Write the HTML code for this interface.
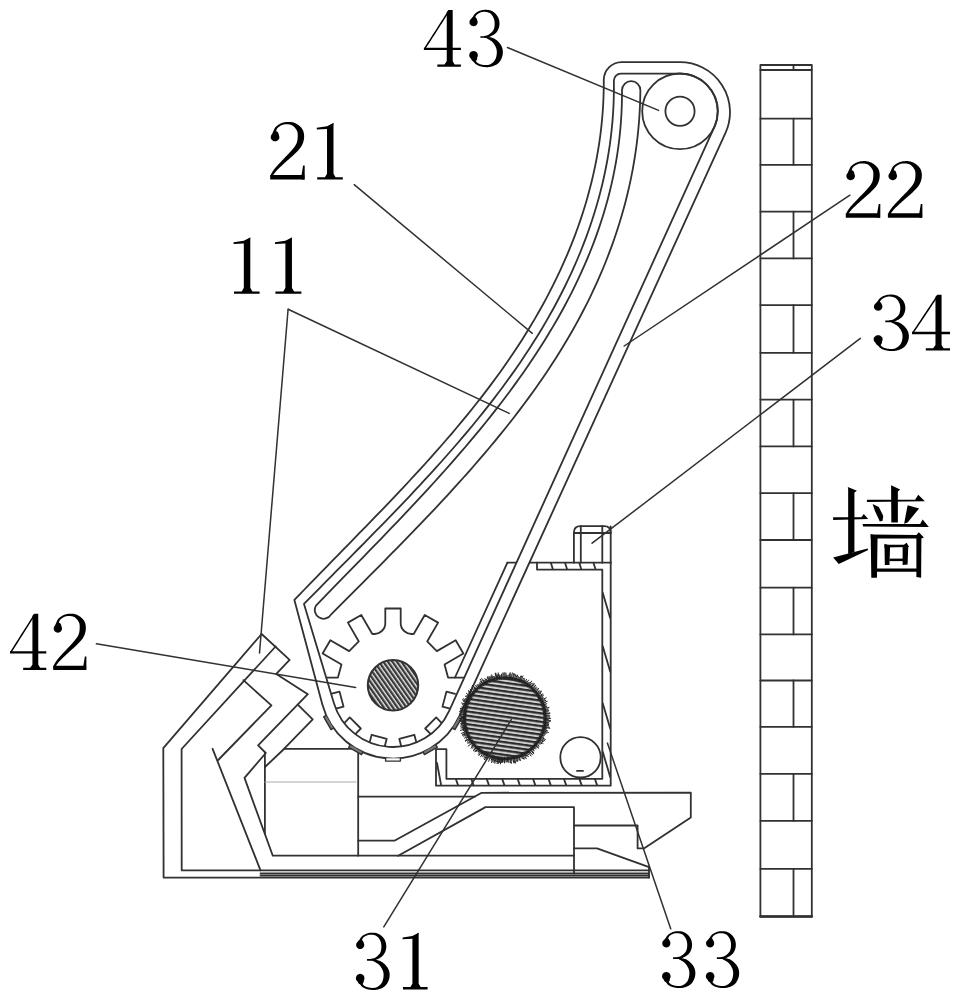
<!DOCTYPE html><html><head><meta charset="utf-8"><style>html,body{margin:0;padding:0;background:#fff;}body{width:959px;height:1000px;overflow:hidden;font-family:"Liberation Serif",serif;}svg{display:block;}</style></head><body><svg width="959" height="1000" viewBox="0 0 959 1000"><defs><pattern id="hs" patternUnits="userSpaceOnUse" width="3.7" height="3.7" patternTransform="rotate(-35)"><rect width="3.7" height="3.7" fill="#e8e8e8"/><rect width="2.3" height="3.7" fill="#383838"/></pattern><pattern id="hr" patternUnits="userSpaceOnUse" width="4.2" height="4.2" patternTransform="rotate(98)"><rect width="4.2" height="4.2" fill="#d0d0d0"/><rect width="2.2" height="4.2" fill="#2a2a2a"/></pattern><filter id="bl" x="-1%" y="-1%" width="102%" height="102%"><feGaussianBlur stdDeviation="0.42"/></filter></defs><rect width="959" height="1000" fill="#fff"/><g filter="url(#bl)"><g fill="none" stroke="#303030" stroke-width="1.8" stroke-linejoin="round" stroke-linecap="round"><rect x="760.4" y="65" width="51.39999999999998" height="851.5" fill="none"/>
<line x1="760.4" y1="70" x2="811.8" y2="70" />
<line x1="793.5" y1="65" x2="793.5" y2="70" />
<line x1="760.4" y1="118.7" x2="811.8" y2="118.7" />
<line x1="760.4" y1="164.8" x2="811.8" y2="164.8" />
<line x1="760.4" y1="211.6" x2="811.8" y2="211.6" />
<line x1="760.4" y1="258.4" x2="811.8" y2="258.4" />
<line x1="760.4" y1="305.2" x2="811.8" y2="305.2" />
<line x1="760.4" y1="352.8" x2="811.8" y2="352.8" />
<line x1="760.4" y1="399.6" x2="811.8" y2="399.6" />
<line x1="760.4" y1="446.4" x2="811.8" y2="446.4" />
<line x1="760.4" y1="493.2" x2="811.8" y2="493.2" />
<line x1="760.4" y1="540" x2="811.8" y2="540" />
<line x1="760.4" y1="587.6" x2="811.8" y2="587.6" />
<line x1="760.4" y1="634.4" x2="811.8" y2="634.4" />
<line x1="760.4" y1="680.5" x2="811.8" y2="680.5" />
<line x1="760.4" y1="726.8" x2="811.8" y2="726.8" />
<line x1="760.4" y1="773.9" x2="811.8" y2="773.9" />
<line x1="760.4" y1="820.8" x2="811.8" y2="820.8" />
<line x1="760.4" y1="868.9" x2="811.8" y2="868.9" />
<line x1="793.5" y1="118.7" x2="793.5" y2="164.8" />
<line x1="793.5" y1="211.6" x2="793.5" y2="258.4" />
<line x1="793.5" y1="305.2" x2="793.5" y2="352.8" />
<line x1="793.5" y1="399.6" x2="793.5" y2="446.4" />
<line x1="793.5" y1="493.2" x2="793.5" y2="540" />
<line x1="793.5" y1="587.6" x2="793.5" y2="634.4" />
<line x1="793.5" y1="680.5" x2="793.5" y2="726.8" />
<line x1="793.5" y1="773.9" x2="793.5" y2="820.8" />
<line x1="793.5" y1="868.9" x2="793.5" y2="916.5" />
<line x1="760.4" y1="916.5" x2="811.8" y2="916.5" stroke-width="2.6"/>
<path d="M649 877.6 L163.6 877.6 L163.3 748.2 L261.6 634 L289.6 659.9 L276.3 673.9 L307.8 694.2 L258.1 745.3 L265.8 753 L244.5 777.9 L272.8 855.7 L574 855.7" fill="none"/>
<path d="M649 870.3 L181.7 870.3 L181.6 749 L275.6 646.5" fill="none"/>
<path d="M243.4 680.2 L271.4 705.4 L218.2 760" fill="none"/>
<line x1="212.6" y1="748.8" x2="260.5" y2="870.3" />
<line x1="260.5" y1="873.5" x2="649" y2="873.5" />
<line x1="260.5" y1="875.6" x2="649" y2="875.6" />
<line x1="649" y1="866.5" x2="649" y2="877.6" />
<path d="M297.8 704.7 L312.7 719.4 L284 748.9 L358.2 748.9" fill="none"/>
<line x1="264.9" y1="753" x2="264.9" y2="833.8" />
<line x1="284" y1="749" x2="265" y2="767" />
<line x1="358.2" y1="748.9" x2="358.2" y2="855.7" />
<line x1="265" y1="782" x2="356" y2="782" stroke="#aaa" stroke-width="1.2"/>
<path d="M358.2 840.7 L394.4 840.7 L481.7 792.8 L690.8 792.6 L690.8 817.6 L643.9 848.4 L637.6 848.4 L637.6 825.5 L574 825.5" fill="none"/>
<line x1="358.2" y1="796.6" x2="475" y2="796.6" />
<path d="M398.2 855.7 L485.5 807.1 L574 807.1 L574 873.5" fill="none"/>
<path d="M574 848.4 L597 848.4 L649.1 867.2" fill="none"/>
<line x1="507.4" y1="562.7" x2="611" y2="562.7" />
<line x1="507.4" y1="562.7" x2="455" y2="677.5" />
<path d="M537 562.7 L537 569.6 L602.3 569.6 L602.3 778.8 L446.4 778.8 L446.4 749.2 L436 749.2 L436 785.7 L610.7 785.7 L610.7 526.5" fill="none"/>
<line x1="437" y1="763" x2="441" y2="784.5" />
<line x1="551" y1="563.3" x2="552.8" y2="569" />
<line x1="565.2" y1="563.3" x2="567" y2="569" />
<line x1="579.4" y1="563.3" x2="581.2" y2="569" />
<line x1="593.6" y1="563.3" x2="595.4" y2="569" />
<line x1="602.8" y1="593" x2="610.2" y2="618" />
<line x1="602.8" y1="646.5" x2="610.2" y2="671.5" />
<line x1="602.8" y1="703.5" x2="610.2" y2="728.5" />
<line x1="602.8" y1="752" x2="610.2" y2="777" />
<line x1="456" y1="779.4" x2="458" y2="785.1" />
<line x1="471.45" y1="779.4" x2="473.45" y2="785.1" />
<line x1="486.9" y1="779.4" x2="488.9" y2="785.1" />
<line x1="502.35" y1="779.4" x2="504.35" y2="785.1" />
<line x1="517.8" y1="779.4" x2="519.8" y2="785.1" />
<line x1="533.25" y1="779.4" x2="535.25" y2="785.1" />
<line x1="548.7" y1="779.4" x2="550.7" y2="785.1" />
<line x1="564.15" y1="779.4" x2="566.15" y2="785.1" />
<line x1="579.6" y1="779.4" x2="581.6" y2="785.1" />
<line x1="595.05" y1="779.4" x2="597.05" y2="785.1" />
<path d="M573.9 562.7 L573.9 532.6 Q573.9 526.1 580.4 526.1 L604.2 526.1 Q610.7 526.1 610.7 532.6" fill="none"/>
<line x1="580.8" y1="526.1" x2="580.8" y2="562.7" />
<line x1="602.3" y1="526.1" x2="602.3" y2="562.7" />
<line x1="573.9" y1="533" x2="610.7" y2="533" />
<circle cx="580.5" cy="757.3" r="20.2" fill="none"/>
<line x1="577" y1="770.9" x2="583" y2="770.9" stroke-width="1.8"/>
<path d="M613.87 80.47 A7 7 0 0 1 620.9 73.7 L680 73.7 A37.8 37.8 0 0 1 714.42 126.93 L449.18 710.82 A61.7 61.7 0 0 1 333.93 703.14 L303.99 603.98 L309.44 598.41 L314.92 592.84 L320.41 587.26 L325.93 581.68 L331.46 576.09 L337 570.49 L342.56 564.88 L348.12 559.27 L353.7 553.64 L359.27 548 L364.85 542.34 L370.42 536.67 L376 530.99 L381.56 525.29 L387.12 519.57 L392.67 513.83 L398.21 508.08 L403.72 502.3 L409.23 496.51 L414.71 490.69 L420.16 484.85 L425.6 478.98 L431 473.09 L436.37 467.18 L441.72 461.23 L447.02 455.26 L452.29 449.26 L457.52 443.23 L462.71 437.17 L467.85 431.08 L472.94 424.95 L477.98 418.79 L482.98 412.6 L487.91 406.36 L492.79 400.1 L497.61 393.79 L502.37 387.45 L507.06 381.06 L511.69 374.64 L516.24 368.17 L520.73 361.66 L525.14 355.11 L529.47 348.51 L533.73 341.86 L537.9 335.17 L541.99 328.43 L545.99 321.65 L549.9 314.82 L553.72 307.94 L557.45 301.01 L561.08 294.04 L564.61 287.02 L568.04 279.96 L571.37 272.85 L574.6 265.69 L577.71 258.49 L580.71 251.24 L583.6 243.94 L586.38 236.6 L589.03 229.22 L591.57 221.79 L593.98 214.31 L596.27 206.79 L598.43 199.23 L600.46 191.62 L602.36 183.97 L604.12 176.27 L605.75 168.52 L607.23 160.74 L608.57 152.91 L609.77 145.03 L610.82 137.11 L611.73 129.15 L612.48 121.14 L613.07 113.09 L613.51 105 L613.79 96.87 L613.91 88.69 L613.87 80.47 Z" fill="#fff" stroke="none"/>
<path d="M622 90.26 L621.96 98.38 L621.76 106.45 L621.4 114.47 L620.88 122.44 L620.21 130.36 L619.4 138.22 L618.43 146.04 L617.32 153.81 L616.06 161.53 L614.66 169.2 L613.12 176.83 L611.45 184.4 L609.64 191.93 L607.7 199.41 L605.64 206.85 L603.44 214.24 L601.12 221.58 L598.68 228.88 L596.13 236.13 L593.45 243.33 L590.66 250.49 L587.76 257.61 L584.74 264.68 L581.62 271.71 L578.4 278.7 L575.07 285.64 L571.65 292.54 L568.12 299.4 L564.5 306.21 L560.79 312.99 L556.99 319.72 L553.1 326.41 L549.12 333.06 L545.06 339.67 L540.93 346.25 L536.71 352.78 L532.42 359.27 L528.05 365.72 L523.62 372.14 L519.11 378.52 L514.54 384.87 L509.91 391.18 L505.21 397.45 L500.46 403.69 L495.65 409.9 L490.78 416.07 L485.87 422.22 L480.9 428.33 L475.89 434.4 L470.84 440.45 L465.74 446.47 L460.61 452.46 L455.44 458.43 L450.23 464.36 L444.99 470.27 L439.72 476.15 L434.43 482 L429.11 487.83 L423.77 493.64 L418.4 499.42 L413.03 505.18 L407.63 510.91 L402.23 516.63 L396.81 522.32 L391.38 527.99 L385.95 533.64 L380.52 539.27 L375.09 544.89 L369.66 550.48 L364.23 556.06 L358.81 561.62 L353.4 567.16 L348.01 572.69 L342.62 578.21 L337.26 583.71 L331.91 589.19 L326.58 594.67 L321.28 600.13 L316 605.58 A8.78 8.78 0 0 0 331.2 614.38 L336.64 608.9 L342.11 603.4 L347.6 597.89 L353.1 592.37 L358.62 586.83 L364.16 581.27 L369.71 575.7 L375.27 570.11 L380.83 564.51 L386.4 558.88 L391.97 553.24 L397.53 547.57 L403.1 541.89 L408.66 536.18 L414.2 530.45 L419.74 524.7 L425.27 518.92 L430.77 513.12 L436.26 507.3 L441.73 501.45 L447.18 495.57 L452.59 489.66 L457.98 483.73 L463.34 477.77 L468.66 471.78 L473.95 465.76 L479.2 459.71 L484.4 453.63 L489.57 447.52 L494.68 441.37 L499.75 435.19 L504.76 428.98 L509.73 422.73 L514.63 416.45 L519.48 410.13 L524.26 403.78 L528.98 397.38 L533.63 390.95 L538.21 384.48 L542.72 377.97 L547.16 371.42 L551.52 364.83 L555.8 358.19 L560 351.52 L564.11 344.8 L568.14 338.04 L572.08 331.23 L575.93 324.38 L579.68 317.48 L583.34 310.54 L586.9 303.56 L590.37 296.53 L593.73 289.46 L596.99 282.34 L600.15 275.18 L603.21 267.98 L606.15 260.73 L608.99 253.44 L611.72 246.1 L614.33 238.72 L616.84 231.3 L619.22 223.83 L621.49 216.32 L623.64 208.77 L625.67 201.17 L627.57 193.53 L629.35 185.84 L631.01 178.12 L632.54 170.34 L633.93 162.53 L635.2 154.67 L636.33 146.77 L637.33 138.83 L638.19 130.84 L638.91 122.81 L639.49 114.74 L639.93 106.62 L640.23 98.47 L640.38 90.27 A9.19 9.19 0 0 0 622 90.26 Z" fill="none"/>
<line x1="507.4" y1="562.7" x2="455" y2="677.5" />
<line x1="507.4" y1="562.7" x2="520" y2="562.7" />
<path d="M316.18 677.6 L337.94 677.6 L341.46 664.44 L322.63 653.56 L330.33 640.22 L349.16 651.1 L358.8 641.46 L347.92 622.63 L361.26 614.93 L372.14 633.76 A11 11 0 0 0 385.3 622.27 L385.3 608.48 L400.7 608.48 L400.7 622.27 A11 11 0 0 0 413.86 633.76 L413.86 633.76 L424.74 614.93 L438.08 622.63 L427.2 641.46 L436.84 651.1 L455.67 640.22 L463.37 653.56 L444.54 664.44 L448.06 677.6 L469.82 677.6" fill="none"/>
<path d="M455.1 693.86 L446.5 691.56 L442.47 706.63 L451.06 708.93" fill="none"/>
<path d="M442.5 723.77 L436.2 717.47 L425.17 728.5 L431.47 734.8" fill="none"/>
<path d="M416.63 743.36 L414.33 734.77 L399.26 738.8 L401.56 747.4" fill="none"/>
<path d="M384.44 747.4 L386.74 738.8 L371.67 734.77 L369.37 743.36" fill="none"/>
<path d="M354.53 734.8 L360.83 728.5 L349.8 717.47 L343.5 723.77" fill="none"/>
<path d="M334.94 708.93 L343.53 706.63 L339.5 691.56 L330.9 693.86" fill="none"/>
<circle cx="393.0" cy="685.3" r="25.2" fill="url(#hs)" stroke-width="2"/>
<path d="M603.77 79.97 A18 18 0 0 1 621.5 62.2 L680 62.2 A50 50 0 0 1 725.49 132.96 L459.6 715.69 A73.2 73.2 0 0 1 322.29 704.23 L294.39 599.98 L299.77 594.36 L305.17 588.75 L310.6 583.13 L316.04 577.52 L321.51 571.91 L326.99 566.29 L332.48 560.67 L337.98 555.05 L343.49 549.42 L349 543.79 L354.52 538.14 L360.03 532.49 L365.55 526.83 L371.06 521.15 L376.56 515.46 L382.05 509.76 L387.53 504.04 L393 498.31 L398.45 492.56 L403.88 486.78 L409.29 480.99 L414.68 475.18 L420.04 469.34 L425.37 463.49 L430.67 457.6 L435.94 451.69 L441.17 445.75 L446.36 439.78 L451.51 433.79 L456.62 427.76 L461.68 421.7 L466.7 415.61 L471.66 409.48 L476.58 403.31 L481.43 397.11 L486.23 390.87 L490.97 384.59 L495.65 378.27 L500.26 371.91 L504.8 365.5 L509.28 359.05 L513.68 352.55 L518.01 346.01 L522.26 339.42 L526.43 332.78 L530.52 326.09 L534.52 319.35 L538.44 312.57 L542.27 305.73 L546.01 298.85 L549.65 291.92 L553.2 284.95 L556.65 277.92 L560 270.85 L563.24 263.74 L566.38 256.58 L569.41 249.37 L572.33 242.12 L575.14 234.82 L577.83 227.48 L580.4 220.09 L582.85 212.66 L585.18 205.19 L587.39 197.67 L589.46 190.11 L591.41 182.51 L593.22 174.87 L594.9 167.18 L596.44 159.45 L597.84 151.69 L599.1 143.88 L600.22 136.03 L601.19 128.14 L602.01 120.21 L602.67 112.24 L603.19 104.23 L603.54 96.18 L603.74 88.09 L603.77 79.97 Z M613.87 80.47 A7 7 0 0 1 620.9 73.7 L680 73.7 A37.8 37.8 0 0 1 714.42 126.93 L449.18 710.82 A61.7 61.7 0 0 1 333.93 703.14 L303.99 603.98 L309.44 598.41 L314.92 592.84 L320.41 587.26 L325.93 581.68 L331.46 576.09 L337 570.49 L342.56 564.88 L348.12 559.27 L353.7 553.64 L359.27 548 L364.85 542.34 L370.42 536.67 L376 530.99 L381.56 525.29 L387.12 519.57 L392.67 513.83 L398.21 508.08 L403.72 502.3 L409.23 496.51 L414.71 490.69 L420.16 484.85 L425.6 478.98 L431 473.09 L436.37 467.18 L441.72 461.23 L447.02 455.26 L452.29 449.26 L457.52 443.23 L462.71 437.17 L467.85 431.08 L472.94 424.95 L477.98 418.79 L482.98 412.6 L487.91 406.36 L492.79 400.1 L497.61 393.79 L502.37 387.45 L507.06 381.06 L511.69 374.64 L516.24 368.17 L520.73 361.66 L525.14 355.11 L529.47 348.51 L533.73 341.86 L537.9 335.17 L541.99 328.43 L545.99 321.65 L549.9 314.82 L553.72 307.94 L557.45 301.01 L561.08 294.04 L564.61 287.02 L568.04 279.96 L571.37 272.85 L574.6 265.69 L577.71 258.49 L580.71 251.24 L583.6 243.94 L586.38 236.6 L589.03 229.22 L591.57 221.79 L593.98 214.31 L596.27 206.79 L598.43 199.23 L600.46 191.62 L602.36 183.97 L604.12 176.27 L605.75 168.52 L607.23 160.74 L608.57 152.91 L609.77 145.03 L610.82 137.11 L611.73 129.15 L612.48 121.14 L613.07 113.09 L613.51 105 L613.79 96.87 L613.91 88.69 L613.87 80.47 Z" fill="#fff" fill-rule="evenodd"/>
<circle cx="680" cy="111.3" r="37.8" fill="none"/>
<circle cx="680" cy="111.3" r="14.6" fill="none"/>
<path d="M459.92 715.39 L462.34 716.79 L454.94 729.61 L452.52 728.21" fill="#777" stroke-width="1.4"/>
<path d="M435.91 744.82 L437.31 747.24 L424.49 754.64 L423.09 752.22" fill="#777" stroke-width="1.4"/>
<path d="M400.4 758.3 L400.4 761.1 L385.6 761.1 L385.6 758.3" fill="#fff" stroke-width="1.4"/>
<path d="M362.91 752.22 L361.51 754.64 L348.69 747.24 L350.09 744.82" fill="#777" stroke-width="1.4"/>
<path d="M333.48 728.21 L331.06 729.61 L323.66 716.79 L326.08 715.39" fill="#777" stroke-width="1.4"/>
<circle cx="504.8" cy="718.3" r="40" fill="url(#hr)" stroke="none"/>
<path d="M543.3 718.36 L551.03 718.37 M543.29 719.36 L548.59 719.5 M543.26 720.07 L550.9 720.42 M543.21 720.86 L550.65 721.36 M543.11 722.15 L549.26 722.77 M543.03 722.85 L548.49 723.5 M542.91 723.75 L548.95 724.61 M542.75 724.78 L549.15 725.88 M542.54 725.92 L549.75 727.38 M542.38 726.66 L550.25 728.41 M542.21 727.39 L547.15 728.58 M541.93 728.46 L546.43 729.69 M541.75 729.1 L547.85 730.89 M541.42 730.18 L548.84 732.59 M541.1 731.13 L547.09 733.25 M540.8 731.95 L545.84 733.86 M540.54 732.61 L545.36 734.54 M540.06 733.76 L544.84 735.85 M539.74 734.47 L543.84 736.36 M539.24 735.5 L543.77 737.76 M538.94 736.1 L545.74 739.64 M538.45 737.01 L545.04 740.68 M537.95 737.87 L544.13 741.52 M537.6 738.45 L543.1 741.83 M537 739.4 L543.39 743.59 M536.52 740.12 L542 743.89 M536.07 740.76 L540.85 744.2 M535.44 741.61 L539.45 744.66 M534.73 742.52 L539.29 746.21 M534.08 743.3 L539.12 747.6 M533.59 743.87 L538.67 748.38 M532.94 744.58 L536.62 748.02 M532.37 745.17 L536.21 748.92 M531.72 745.82 L535.12 749.28 M530.86 746.64 L534.43 750.52 M530.27 747.17 L533.96 751.36 M529.49 747.84 L533.91 753.12 M529.04 748.21 L533.79 754.07 M528.01 749.02 L532.69 755.2 M527.4 749.47 L530.35 753.53 M526.79 749.9 L531.26 756.34 M525.88 750.52 L528.7 754.83 M524.96 751.1 L528.53 756.9 M524.29 751.5 L527.25 756.55 M523.55 751.93 L526.16 756.61 M522.88 752.29 L526.48 759.05 M521.88 752.81 L524.75 758.61 M521.1 753.18 L524.15 759.71 M520.38 753.51 L522.74 758.85 M519.52 753.88 L521.41 758.44 M518.25 754.37 L520.65 760.81 M517.61 754.61 L519.73 760.63 M516.53 754.97 L518.28 760.43 M515.77 755.2 L517.75 761.88 M514.98 755.43 L516.66 761.57 M513.89 755.71 L515.73 763.26 M513.27 755.86 L514.99 763.53 M512.42 756.04 L513.85 763.11 M511.14 756.27 L511.96 761.2 M510.4 756.39 L511.48 763.75 M509.66 756.49 L510.52 763.2 M508.38 756.63 L508.97 762.95 M507.48 756.71 L507.86 762.01 M506.8 756.75 L507.1 762.55 M505.88 756.78 L506.04 762.53 M504.59 756.8 L504.56 763.36 M503.94 756.79 L503.82 762.27 M502.73 756.74 L502.4 762.84 M501.79 756.68 L501.29 763.02 M501.07 756.62 L500.33 764.31 M500.05 756.51 L499.23 763.05 M499.27 756.4 L498.17 763.98 M498.36 756.26 L497.05 763.97 M497.6 756.12 L496.47 762.06 M496.48 755.89 L494.77 763.63 M495.7 755.71 L493.95 762.9 M494.61 755.43 L492.73 762.26 M493.73 755.18 L491.43 762.84 M492.98 754.94 L491.15 760.59 M492.15 754.66 L490.61 759.09 M491.27 754.34 L488.53 761.64 M490.14 753.9 L488.27 758.43 M489.38 753.58 L486.89 759.28 M488.54 753.2 L485.63 759.43 M487.82 752.85 L484.31 760 M486.92 752.4 L483.78 758.39 M486.04 751.92 L483.52 756.42 M485.46 751.59 L482.45 756.76 M484.38 750.94 L480.44 757.24 M483.61 750.45 L480.91 754.54 M482.77 749.88 L478.55 755.93 M482.03 749.34 L478.25 754.49 M481.27 748.77 L478.42 752.47 M480.86 748.45 L478.02 752.03 M480.06 747.8 L476.59 751.93 M479.38 747.21 L475.06 752.13 M478.74 746.64 L474.25 751.51 M478.02 745.96 L473.19 750.94 M477.4 745.35 L473.41 749.3 M476.47 744.37 L471.73 748.73 M475.89 743.72 L470.73 748.26 M475.34 743.09 L471.37 746.43 M474.76 742.38 L471.14 745.29 M474.12 741.56 L467.79 746.37 M473.56 740.8 L469.76 743.53 M473.16 740.23 L468.52 743.45 M472.69 739.55 L467.06 743.28 M472.02 738.5 L467.23 741.45 M471.53 737.67 L465.16 741.38 M471.24 737.16 L464.91 740.72 M470.63 736.04 L466 738.44 M470.27 735.33 L464.17 738.34 M469.86 734.48 L465.47 736.51 M469.47 733.61 L463.26 736.3 M469.09 732.68 L462.23 735.44 M468.83 732.03 L462.2 734.56 M468.43 730.92 L461.14 733.45 M468.23 730.35 L463.87 731.78 M467.89 729.24 L462.83 730.74 M467.64 728.39 L460.02 730.46 M467.43 727.57 L462.18 728.87 M467.21 726.63 L460.51 728.11 M467.05 725.88 L461.3 727.03 M466.88 724.95 L460.1 726.14 M466.68 723.71 L460.88 724.53 M466.59 723 L460.19 723.79 M466.49 722.15 L461.13 722.69 M466.41 721.17 L460.28 721.62 M466.35 720.35 L459.16 720.74 M466.31 719.19 L460.73 719.32 M466.3 718.5 L459.05 718.53 M466.31 717.54 L461.33 717.44 M466.34 716.61 L461.55 716.4 M466.42 715.32 L460.96 714.9 M466.47 714.67 L459.01 713.97 M466.59 713.6 L461.45 712.97 M466.7 712.77 L459.1 711.66 M466.84 711.88 L459.88 710.7 M466.98 711.09 L459.99 709.75 M467.23 709.87 L459.94 708.23 M467.44 709.01 L461.78 707.6 M467.6 708.38 L461.45 706.74 M467.94 707.18 L462.98 705.68 M468.15 706.51 L462.03 704.54 M468.52 705.41 L461.24 702.83 M468.74 704.81 L463.9 703 M469.19 703.65 L462.89 701.06 M469.54 702.83 L462.14 699.58 M469.97 701.89 L463.15 698.68 M470.34 701.12 L465.04 698.48 M470.74 700.35 L466.17 697.94 M471.21 699.48 L464.9 695.95 M471.67 698.69 L466.42 695.59 M472.07 698.03 L466.95 694.87 M472.48 697.38 L466.15 693.29 M473.13 696.41 L468.28 693.06 M473.67 695.65 L467.93 691.48 M474.18 694.97 L468.22 690.43 M474.9 694.04 L470.33 690.33 M475.27 693.6 L469.71 688.96 M476.13 692.6 L472.39 689.24 M476.67 692.01 L471.22 686.91 M477.39 691.27 L473.86 687.8 M477.77 690.88 L472.12 685.14 M478.45 690.23 L474.94 686.48 M479.3 689.46 L475.25 684.88 M480.06 688.8 L476.73 684.83 M480.84 688.16 L477.55 684.03 M481.52 687.63 L478.66 683.86 M482.16 687.16 L479.45 683.43 M482.86 686.66 L479.65 682.04 M483.79 686.04 L480.44 680.9 M484.31 685.7 L480.01 678.86 M485.44 685.02 L481.51 678.28 M485.99 684.71 L483.1 679.55 M486.8 684.27 L484.48 679.89 M487.54 683.88 L484.71 678.24 M488.42 683.46 L486.23 678.81 M489.58 682.94 L487.11 677.2 M490.15 682.7 L487.52 676.31 M491.05 682.34 L488.76 676.37 M491.93 682.02 L489.8 676.02 M492.96 681.67 L490.98 675.55 M493.74 681.42 L491.64 674.38 M494.85 681.11 L493.52 676.14 M495.42 680.96 L494.23 676.2 M496.71 680.66 L495.05 672.95 M497.28 680.54 L495.72 672.7 M498.19 680.37 L497.1 674.14 M499.24 680.2 L498.11 672.49 M499.95 680.11 L499.24 674.52 M501.13 679.98 L500.68 675.26 M501.89 679.91 L501.42 673.75 M503.12 679.84 L502.8 672.6 M504.02 679.81 L503.88 672.57 M504.9 679.8 L504.91 672.24 M505.81 679.81 L506 672.67 M506.57 679.84 L506.8 674.74 M507.71 679.91 L508.09 674.83 M508.71 680 L509.38 673.39 M509.36 680.07 L510.3 672.25 M510.21 680.18 L511.1 673.89 M511.1 680.32 L512.4 672.45 M512.23 680.52 L513.66 673.27 M513.01 680.69 L514.58 673.47 M514.1 680.94 L515.75 674.33 M515.11 681.21 L516.74 675.37 M515.77 681.4 L517.76 674.69 M516.84 681.73 L518.63 676.31 M517.65 682.01 L519.41 677.06 M518.47 682.31 L521.06 675.52 M519.13 682.57 L521.78 675.96 M519.97 682.91 L523.1 675.61 M521.01 683.38 L523.53 677.96 M521.95 683.83 L524.8 678.12 M522.79 684.26 L525.03 680.01 M523.54 684.67 L526.7 678.98 M524.49 685.22 L526.86 681.23 M525.1 685.58 L528.67 679.83 M525.92 686.11 L528.53 682.12 M526.71 686.64 L529.72 682.28 M527.32 687.07 L531.8 680.85 M528.06 687.62 L531.77 682.74 M529 688.36 L533.43 682.87 M529.65 688.89 L534.42 683.23 M530.32 689.47 L534.78 684.43 M531.13 690.21 L535.87 685.14 M531.74 690.8 L535.91 686.54 M532.37 691.43 L536.61 687.29 M533.07 692.16 L537.38 688.18 M533.61 692.76 L539.01 687.97 M534.23 693.47 L538.6 689.79 M534.91 694.31 L539.5 690.65 M535.49 695.05 L541.33 690.63 M535.93 695.65 L541.65 691.49 M536.36 696.25 L541.2 692.87 M537.1 697.34 L542.62 693.76 M537.52 698.01 L543.38 694.38 M538.03 698.85 L543.72 695.52 M538.43 699.56 L542.94 697.05 M538.85 700.32 L543.76 697.73 M539.3 701.21 L546.55 697.61 M539.69 702.01 L545.22 699.43 M540.07 702.87 L546.11 700.23 M540.54 703.97 L547.68 701.11 M540.78 704.59 L545.88 702.65 M541.18 705.69 L547.11 703.63 M541.44 706.48 L545.98 705.02 M541.74 707.45 L547.14 705.87 M541.95 708.18 L546.98 706.81 M542.17 709.05 L549.43 707.25 M542.43 710.14 L548.49 708.82 M542.61 711.02 L548.64 709.86 M542.74 711.76 L549.11 710.66 M542.88 712.6 L548.45 711.77 M543.03 713.75 L550.25 712.9 M543.1 714.38 L550.2 713.65 M543.21 715.66 L549.3 715.24 M543.24 716.24 L550.19 715.87 M543.29 717.25 L550.1 717.07 " stroke="#222" stroke-width="1.0" stroke-linecap="butt"/>
<circle cx="504.8" cy="718.3" r="40.8" fill="none" stroke="#222" stroke-width="2.2"/>
<line x1="507.4" y1="47.5" x2="658.6" y2="110.4" stroke-width="1.5"/>
<line x1="354.2" y1="184.7" x2="532.3" y2="333.3" stroke-width="1.5"/>
<line x1="849.9" y1="195.2" x2="624.2" y2="346" stroke-width="1.5"/>
<line x1="288.1" y1="309.2" x2="509.2" y2="413.4" stroke-width="1.5"/>
<line x1="288.1" y1="309.2" x2="259.5" y2="652.9" stroke-width="1.5"/>
<line x1="860.3" y1="338.4" x2="592.1" y2="543.2" stroke-width="1.5"/>
<line x1="96.4" y1="643.8" x2="355.7" y2="687.4" stroke-width="1.5"/>
<line x1="511.3" y1="719.6" x2="383.8" y2="926.9" stroke-width="1.5"/>
<line x1="607.4" y1="743.1" x2="670.7" y2="928.8" stroke-width="1.5"/></g>
<path d="M446.76 11.92 L448.70 9.90 L452.70 9.90 L452.70 65.39 L446.76 65.39 Z" fill="#000" stroke="none"/><path d="M448.46 10.10 L446.59 13.04 L444.71 15.97 L442.83 18.90 L440.96 21.84 L439.08 24.77 L437.20 27.70 L435.33 30.64 L433.45 33.57 L431.58 36.50 L429.70 39.44 L427.82 42.37 L425.95 45.30 L424.07 48.24 L425.37 49.04 L427.25 46.11 L429.12 43.18 L431.00 40.24 L432.88 37.31 L434.75 34.38 L436.63 31.44 L438.51 28.51 L440.38 25.58 L442.26 22.64 L444.13 19.71 L446.01 16.78 L447.89 13.84 L449.76 10.91 Z" fill="#000" stroke="none"/><path d="M423.90 47.63 L460.90 47.63 L460.90 50.05 L423.90 50.05 Z" fill="#000" stroke="none"/><path d="M437.33 64.38 L444.40 64.38 L446.76 61.35 L452.70 61.35 L454.65 64.38 L460.90 64.38 L460.90 66.70 L437.33 66.70 Z" fill="#000" stroke="none"/>
<path d="M477.60 22.10 L477.47 23.16 L477.06 24.15 L476.42 25.00 L475.58 25.65 L474.60 26.06 L473.55 26.20 L472.50 26.06 L471.53 25.65 L470.69 25.00 L470.05 24.15 L469.64 23.16 L469.50 22.10 L469.64 21.04 L470.05 20.05 L470.69 19.20 L471.53 18.55 L472.50 18.14 L473.55 18.00 L474.60 18.14 L475.58 18.55 L476.42 19.20 L477.06 20.05 L477.47 21.04 Z" fill="#000" stroke="none"/><path d="M476.81 19.70 L476.72 20.42 L476.44 21.10 L476.00 21.68 L475.43 22.12 L474.76 22.40 L474.05 22.50 L473.33 22.40 L472.66 22.12 L472.09 21.68 L471.65 21.10 L471.38 20.42 L471.28 19.70 L471.38 18.98 L471.65 18.30 L472.09 17.72 L472.66 17.28 L473.33 17.00 L474.05 16.90 L474.76 17.00 L475.43 17.28 L476.00 17.72 L476.44 18.30 L476.72 18.98 Z" fill="#000" stroke="none"/><path d="M474.15 19.59 L474.37 19.18 L474.59 18.74 L474.78 18.31 L474.97 17.89 L475.15 17.47 L475.32 17.07 L475.49 16.68 L475.67 16.30 L475.85 15.94 L476.05 15.60 L476.26 15.28 L476.48 14.98 L476.73 14.70 L477.01 14.44 L477.33 14.18 L477.69 13.91 L478.07 13.66 L478.48 13.41 L478.91 13.17 L479.35 12.94 L479.81 12.73 L480.28 12.54 L480.76 12.37 L481.24 12.21 L481.72 12.08 L482.20 11.98 L482.68 11.90 L483.15 11.84 L483.63 11.81 L484.14 11.80 L484.66 11.81 L485.19 11.84 L485.73 11.89 L486.26 11.96 L486.80 12.05 L487.32 12.17 L487.84 12.30 L488.33 12.45 L488.80 12.63 L489.24 12.82 L489.65 13.03 L490.02 13.25 L490.36 13.49 L490.70 13.77 L491.03 14.08 L491.35 14.42 L491.66 14.78 L491.95 15.16 L492.23 15.55 L492.50 15.96 L492.75 16.37 L492.99 16.79 L493.20 17.21 L493.41 17.62 L493.59 18.03 L493.76 18.42 L493.90 18.79 L494.03 19.17 L494.14 19.57 L494.24 19.98 L494.34 20.40 L494.42 20.83 L494.48 21.27 L494.54 21.71 L494.59 22.15 L494.62 22.58 L494.64 23.02 L494.65 23.45 L494.66 23.87 L494.65 24.28 L494.63 24.69 L494.61 25.11 L494.58 25.53 L494.53 25.96 L494.48 26.39 L494.41 26.82 L494.33 27.25 L494.24 27.67 L494.14 28.09 L494.02 28.49 L493.89 28.89 L493.75 29.27 L493.59 29.63 L493.42 29.98 L493.23 30.31 L493.00 30.66 L492.74 31.02 L492.44 31.39 L492.11 31.76 L491.76 32.13 L491.39 32.49 L491.01 32.85 L490.62 33.19 L490.23 33.52 L489.83 33.83 L489.45 34.12 L489.07 34.39 L488.73 34.63 L488.38 34.84 L488.05 35.02 L487.71 35.17 L487.37 35.30 L487.02 35.41 L486.65 35.50 L486.28 35.59 L485.90 35.66 L485.51 35.74 L485.11 35.82 L484.70 35.90 L484.28 36.00 L483.87 36.12 L484.18 37.68 L484.58 37.63 L484.96 37.60 L485.34 37.57 L485.73 37.55 L486.13 37.52 L486.55 37.50 L486.97 37.46 L487.41 37.41 L487.86 37.34 L488.33 37.25 L488.81 37.12 L489.30 36.96 L489.80 36.77 L490.26 36.57 L490.73 36.36 L491.21 36.12 L491.71 35.87 L492.22 35.60 L492.74 35.31 L493.26 35.00 L493.77 34.67 L494.28 34.32 L494.78 33.95 L495.26 33.55 L495.72 33.14 L496.16 32.69 L496.57 32.22 L496.94 31.74 L497.28 31.24 L497.59 30.73 L497.88 30.20 L498.15 29.66 L498.40 29.11 L498.62 28.55 L498.81 27.98 L498.99 27.41 L499.13 26.83 L499.26 26.25 L499.36 25.68 L499.43 25.10 L499.48 24.52 L499.51 23.94 L499.51 23.36 L499.49 22.76 L499.44 22.17 L499.37 21.57 L499.28 20.97 L499.16 20.37 L499.01 19.77 L498.84 19.18 L498.65 18.60 L498.43 18.03 L498.18 17.46 L497.91 16.91 L497.61 16.38 L497.29 15.88 L496.95 15.39 L496.58 14.91 L496.19 14.44 L495.77 13.98 L495.33 13.54 L494.88 13.11 L494.40 12.70 L493.91 12.31 L493.41 11.94 L492.89 11.60 L492.36 11.29 L491.82 11.00 L491.27 10.75 L490.71 10.53 L490.13 10.35 L489.53 10.19 L488.93 10.06 L488.32 9.96 L487.70 9.88 L487.08 9.82 L486.46 9.78 L485.85 9.77 L485.24 9.77 L484.64 9.79 L484.05 9.83 L483.48 9.88 L482.93 9.96 L482.37 10.05 L481.82 10.17 L481.27 10.31 L480.72 10.48 L480.18 10.66 L479.64 10.86 L479.11 11.08 L478.60 11.31 L478.09 11.56 L477.60 11.82 L477.13 12.09 L476.68 12.37 L476.25 12.66 L475.83 12.96 L475.43 13.29 L475.05 13.65 L474.71 14.03 L474.39 14.42 L474.10 14.82 L473.83 15.22 L473.58 15.62 L473.34 16.02 L473.10 16.42 L472.88 16.80 L472.66 17.17 L472.43 17.53 L472.21 17.87 L471.97 18.21 Z" fill="#000" stroke="none"/><path d="M480.37 37.80 L480.78 37.80 L481.20 37.80 L481.63 37.80 L482.07 37.80 L482.50 37.80 L482.93 37.80 L483.36 37.80 L483.78 37.80 L484.19 37.80 L484.58 37.81 L484.96 37.81 L485.32 37.82 L485.66 37.83 L485.96 37.85 L486.26 37.87 L486.53 37.89 L486.78 37.92 L487.00 37.95 L487.21 37.98 L487.41 38.02 L487.60 38.06 L487.79 38.09 L487.99 38.13 L488.18 38.17 L488.39 38.21 L488.61 38.25 L488.84 38.29 L489.09 36.51 L488.88 36.48 L488.68 36.45 L488.49 36.42 L488.30 36.39 L488.10 36.36 L487.90 36.33 L487.69 36.30 L487.46 36.26 L487.22 36.23 L486.96 36.21 L486.68 36.18 L486.37 36.17 L486.04 36.15 L485.71 36.14 L485.35 36.14 L484.98 36.13 L484.59 36.14 L484.19 36.14 L483.77 36.14 L483.35 36.15 L482.92 36.16 L482.48 36.17 L482.05 36.17 L481.62 36.18 L481.19 36.19 L480.78 36.20 L480.37 36.20 Z" fill="#000" stroke="none"/><path d="M486.15 37.98 L486.67 38.30 L487.20 38.61 L487.73 38.92 L488.27 39.22 L488.80 39.51 L489.32 39.80 L489.82 40.09 L490.31 40.38 L490.78 40.68 L491.22 40.98 L491.63 41.29 L492.01 41.60 L492.35 41.92 L492.67 42.26 L493.00 42.64 L493.33 43.04 L493.66 43.47 L493.98 43.92 L494.29 44.38 L494.58 44.86 L494.87 45.34 L495.14 45.82 L495.38 46.30 L495.61 46.77 L495.82 47.24 L496.01 47.68 L496.16 48.11 L496.30 48.51 L496.41 48.90 L496.51 49.28 L496.59 49.68 L496.66 50.07 L496.72 50.47 L496.76 50.88 L496.79 51.29 L496.82 51.70 L496.83 52.11 L496.82 52.53 L496.81 52.95 L496.79 53.37 L496.76 53.79 L496.71 54.20 L496.66 54.62 L496.60 55.06 L496.52 55.51 L496.43 55.96 L496.33 56.42 L496.21 56.88 L496.08 57.34 L495.95 57.79 L495.79 58.23 L495.63 58.66 L495.46 59.07 L495.27 59.46 L495.08 59.83 L494.88 60.17 L494.65 60.51 L494.39 60.86 L494.10 61.22 L493.78 61.58 L493.44 61.95 L493.07 62.30 L492.68 62.65 L492.27 62.98 L491.85 63.30 L491.41 63.60 L490.97 63.88 L490.52 64.13 L490.07 64.35 L489.63 64.55 L489.19 64.71 L488.73 64.84 L488.25 64.94 L487.76 65.02 L487.25 65.07 L486.74 65.10 L486.22 65.12 L485.70 65.11 L485.18 65.09 L484.66 65.05 L484.16 65.00 L483.66 64.95 L483.17 64.88 L482.71 64.81 L482.25 64.74 L481.81 64.65 L481.36 64.54 L480.93 64.43 L480.49 64.30 L480.07 64.16 L479.66 64.01 L479.26 63.84 L478.88 63.67 L478.51 63.48 L478.16 63.28 L477.83 63.08 L477.51 62.87 L477.24 62.66 L476.97 62.42 L476.74 62.18 L476.53 61.91 L476.33 61.62 L476.15 61.30 L475.97 60.97 L475.79 60.62 L475.61 60.26 L475.43 59.88 L475.24 59.49 L475.04 59.09 L474.82 58.68 L474.59 58.30 L472.32 59.90 L472.56 60.20 L472.79 60.51 L473.01 60.83 L473.24 61.17 L473.48 61.52 L473.72 61.88 L473.98 62.25 L474.25 62.62 L474.54 62.99 L474.86 63.35 L475.21 63.70 L475.59 64.04 L476.00 64.34 L476.39 64.60 L476.78 64.84 L477.20 65.07 L477.62 65.28 L478.06 65.48 L478.51 65.68 L478.97 65.86 L479.44 66.03 L479.91 66.18 L480.40 66.33 L480.89 66.46 L481.38 66.58 L481.88 66.69 L482.38 66.79 L482.89 66.87 L483.41 66.95 L483.94 67.01 L484.49 67.07 L485.05 67.12 L485.62 67.15 L486.19 67.17 L486.78 67.18 L487.36 67.17 L487.95 67.15 L488.53 67.11 L489.12 67.04 L489.70 66.96 L490.28 66.85 L490.85 66.73 L491.42 66.59 L492.01 66.43 L492.60 66.26 L493.20 66.07 L493.79 65.85 L494.39 65.62 L494.98 65.36 L495.57 65.07 L496.14 64.77 L496.71 64.43 L497.25 64.06 L497.77 63.66 L498.27 63.23 L498.74 62.76 L499.19 62.26 L499.61 61.74 L500.00 61.20 L500.37 60.64 L500.72 60.06 L501.04 59.47 L501.33 58.88 L501.60 58.27 L501.85 57.66 L502.07 57.04 L502.26 56.42 L502.42 55.81 L502.56 55.20 L502.67 54.59 L502.76 53.97 L502.82 53.34 L502.85 52.71 L502.86 52.07 L502.85 51.42 L502.80 50.77 L502.72 50.13 L502.62 49.48 L502.48 48.83 L502.31 48.18 L502.10 47.54 L501.86 46.91 L501.59 46.29 L501.28 45.68 L500.94 45.08 L500.57 44.50 L500.17 43.92 L499.74 43.36 L499.29 42.82 L498.82 42.29 L498.33 41.77 L497.83 41.28 L497.31 40.80 L496.79 40.35 L496.25 39.92 L495.70 39.52 L495.14 39.14 L494.55 38.78 L493.94 38.46 L493.32 38.19 L492.71 37.95 L492.09 37.75 L491.48 37.57 L490.88 37.41 L490.28 37.27 L489.68 37.13 L489.10 37.00 L488.52 36.87 L487.95 36.73 L487.40 36.59 L486.84 36.42 Z" fill="#000" stroke="none"/><path d="M477.11 58.50 L477.01 59.28 L476.71 60.00 L476.24 60.62 L475.63 61.10 L474.91 61.40 L474.15 61.50 L473.38 61.40 L472.66 61.10 L472.05 60.62 L471.58 60.00 L471.28 59.28 L471.18 58.50 L471.28 57.72 L471.58 57.00 L472.05 56.38 L472.66 55.90 L473.38 55.60 L474.15 55.50 L474.91 55.60 L475.63 55.90 L476.24 56.38 L476.71 57.00 L477.01 57.72 Z" fill="#000" stroke="none"/><path d="M477.80 55.30 L477.66 56.41 L477.23 57.45 L476.56 58.34 L475.68 59.02 L474.65 59.45 L473.55 59.60 L472.45 59.45 L471.43 59.02 L470.55 58.34 L469.87 57.45 L469.45 56.41 L469.30 55.30 L469.45 54.19 L469.87 53.15 L470.55 52.26 L471.43 51.58 L472.45 51.15 L473.55 51.00 L474.65 51.15 L475.68 51.58 L476.56 52.26 L477.23 53.15 L477.66 54.19 Z" fill="#000" stroke="none"/>
<path d="M279.35 137.07 L279.20 138.17 L278.77 139.19 L278.09 140.06 L277.19 140.74 L276.15 141.16 L275.04 141.30 L273.92 141.16 L272.88 140.74 L271.99 140.06 L271.30 139.19 L270.87 138.17 L270.73 137.07 L270.87 135.98 L271.30 134.95 L271.99 134.08 L272.88 133.41 L273.92 132.98 L275.04 132.84 L276.15 132.98 L277.19 133.41 L278.09 134.08 L278.77 134.95 L279.20 135.98 Z" fill="#000" stroke="none"/><path d="M278.61 134.18 L278.51 134.98 L278.19 135.73 L277.69 136.37 L277.04 136.86 L276.28 137.17 L275.46 137.28 L274.64 137.17 L273.88 136.86 L273.23 136.37 L272.73 135.73 L272.41 134.98 L272.30 134.18 L272.41 133.38 L272.73 132.63 L273.23 131.99 L273.88 131.50 L274.64 131.19 L275.46 131.08 L276.28 131.19 L277.04 131.50 L277.69 131.99 L278.19 132.63 L278.51 133.38 Z" fill="#000" stroke="none"/><path d="M275.34 133.91 L275.51 133.44 L275.67 132.94 L275.80 132.46 L275.92 131.98 L276.03 131.51 L276.14 131.06 L276.25 130.63 L276.36 130.21 L276.49 129.81 L276.64 129.43 L276.81 129.06 L277.00 128.72 L277.22 128.40 L277.48 128.08 L277.80 127.76 L278.16 127.42 L278.56 127.09 L278.98 126.76 L279.44 126.45 L279.91 126.14 L280.40 125.84 L280.91 125.57 L281.44 125.32 L281.97 125.09 L282.50 124.88 L283.04 124.71 L283.57 124.56 L284.10 124.45 L284.65 124.37 L285.22 124.30 L285.82 124.26 L286.44 124.24 L287.06 124.24 L287.69 124.26 L288.32 124.31 L288.94 124.39 L289.56 124.49 L290.15 124.62 L290.72 124.78 L291.26 124.96 L291.76 125.16 L292.21 125.39 L292.65 125.66 L293.08 125.96 L293.51 126.31 L293.94 126.69 L294.35 127.11 L294.75 127.54 L295.14 128.00 L295.50 128.46 L295.84 128.93 L296.16 129.41 L296.44 129.87 L296.70 130.32 L296.92 130.75 L297.10 131.13 L297.24 131.49 L297.36 131.84 L297.45 132.20 L297.53 132.56 L297.59 132.94 L297.65 133.33 L297.69 133.73 L297.71 134.14 L297.73 134.57 L297.74 135.01 L297.74 135.46 L297.73 135.93 L297.72 136.40 L297.71 136.87 L297.69 137.33 L297.66 137.79 L297.63 138.26 L297.59 138.73 L297.54 139.20 L297.48 139.68 L297.41 140.16 L297.32 140.64 L297.22 141.12 L297.11 141.60 L296.98 142.08 L296.83 142.55 L296.66 143.01 L296.48 143.47 L296.28 143.91 L296.05 144.35 L295.81 144.80 L295.54 145.25 L295.25 145.70 L294.93 146.17 L294.59 146.65 L294.22 147.13 L293.84 147.63 L293.43 148.15 L292.99 148.68 L292.54 149.23 L292.07 149.80 L291.59 150.38 L291.09 150.96 L290.56 151.56 L290.00 152.19 L289.42 152.83 L288.80 153.48 L288.17 154.15 L287.53 154.82 L286.88 155.49 L286.23 156.17 L285.58 156.84 L284.93 157.51 L284.30 158.16 L283.68 158.81 L283.09 159.44 L282.52 160.05 L281.94 160.66 L281.37 161.27 L280.79 161.88 L280.21 162.48 L279.64 163.08 L279.08 163.68 L278.53 164.26 L278.00 164.83 L277.48 165.39 L276.98 165.94 L276.50 166.47 L276.05 166.99 L275.62 167.49 L275.22 167.97 L274.85 168.43 L274.50 168.87 L274.16 169.30 L273.85 169.72 L273.55 170.12 L273.28 170.51 L273.01 170.89 L272.76 171.26 L272.53 171.62 L272.30 171.97 L272.09 172.32 L271.89 172.66 L271.69 173.00 L271.48 173.37 L271.30 173.73 L271.14 174.07 L271.01 174.40 L270.89 174.71 L270.79 175.01 L270.70 175.30 L270.62 175.57 L270.54 175.84 L270.47 176.09 L270.39 176.33 L270.31 176.58 L270.22 176.84 L272.28 177.61 L272.40 177.33 L272.51 177.04 L272.61 176.76 L272.70 176.49 L272.79 176.24 L272.87 175.99 L272.96 175.75 L273.06 175.52 L273.16 175.28 L273.28 175.03 L273.42 174.78 L273.57 174.51 L273.76 174.23 L273.96 173.94 L274.17 173.64 L274.39 173.34 L274.62 173.03 L274.86 172.72 L275.12 172.40 L275.39 172.07 L275.68 171.73 L275.99 171.38 L276.31 171.02 L276.66 170.64 L277.02 170.25 L277.41 169.84 L277.82 169.41 L278.26 168.97 L278.73 168.51 L279.22 168.02 L279.74 167.52 L280.28 167.01 L280.84 166.48 L281.42 165.94 L282.01 165.39 L282.61 164.83 L283.23 164.26 L283.84 163.70 L284.47 163.12 L285.09 162.55 L285.71 161.98 L286.33 161.41 L286.98 160.83 L287.65 160.23 L288.34 159.63 L289.04 159.01 L289.75 158.39 L290.46 157.76 L291.17 157.14 L291.87 156.51 L292.56 155.89 L293.23 155.28 L293.88 154.67 L294.51 154.07 L295.09 153.49 L295.64 152.95 L296.17 152.42 L296.69 151.91 L297.20 151.40 L297.69 150.89 L298.18 150.38 L298.65 149.87 L299.11 149.35 L299.56 148.83 L300.00 148.29 L300.42 147.73 L300.82 147.16 L301.20 146.56 L301.56 145.95 L301.90 145.33 L302.21 144.71 L302.50 144.08 L302.76 143.44 L303.00 142.80 L303.22 142.16 L303.42 141.52 L303.59 140.87 L303.74 140.23 L303.87 139.59 L303.97 138.95 L304.04 138.31 L304.09 137.68 L304.12 137.06 L304.13 136.46 L304.12 135.87 L304.09 135.26 L304.04 134.64 L303.96 134.01 L303.86 133.37 L303.73 132.73 L303.57 132.09 L303.38 131.45 L303.14 130.81 L302.87 130.18 L302.55 129.55 L302.18 128.94 L301.78 128.35 L301.34 127.80 L300.87 127.27 L300.36 126.76 L299.82 126.26 L299.26 125.78 L298.66 125.31 L298.05 124.87 L297.42 124.45 L296.77 124.05 L296.11 123.68 L295.45 123.34 L294.77 123.03 L294.10 122.76 L293.42 122.53 L292.73 122.34 L292.03 122.19 L291.32 122.07 L290.60 121.98 L289.88 121.92 L289.16 121.89 L288.43 121.88 L287.71 121.89 L287.00 121.93 L286.29 121.99 L285.60 122.07 L284.93 122.18 L284.28 122.30 L283.65 122.44 L283.02 122.60 L282.40 122.80 L281.79 123.03 L281.18 123.28 L280.58 123.55 L279.99 123.84 L279.42 124.16 L278.86 124.48 L278.32 124.82 L277.80 125.17 L277.30 125.53 L276.83 125.90 L276.38 126.27 L275.96 126.65 L275.56 127.07 L275.20 127.51 L274.88 127.97 L274.60 128.43 L274.34 128.90 L274.12 129.37 L273.91 129.84 L273.72 130.30 L273.54 130.75 L273.36 131.19 L273.19 131.61 L273.01 132.02 L272.83 132.40 L272.63 132.80 Z" fill="#000" stroke="none"/><path d="M270.20 175.06 L304.38 175.06 L304.38 179.60 L270.20 179.60 Z" fill="#000" stroke="none"/><path d="M301.54 175.26 L303.12 165.56 L304.70 165.56 L304.70 179.60 L301.54 179.60 Z" fill="#000" stroke="none"/>
<path d="M327.02 127.22 L333.49 123.00 L333.49 178.29 L327.02 178.29 Z" fill="#000" stroke="none"/><path d="M316.80 127.73 L327.02 126.22 L333.49 123.00 L332.99 125.41 L327.02 129.03 L316.80 129.53 Z" fill="#000" stroke="none"/><path d="M317.20 177.19 L324.89 177.19 L327.02 173.77 L333.49 173.77 L335.62 177.19 L342.80 177.19 L342.80 179.60 L317.20 179.60 Z" fill="#000" stroke="none"/>
<path d="M243.82 241.70 L250.29 237.50 L250.29 292.50 L243.82 292.50 Z" fill="#000" stroke="none"/><path d="M233.60 242.20 L243.82 240.70 L250.29 237.50 L249.79 239.90 L243.82 243.50 L233.60 244.00 Z" fill="#000" stroke="none"/><path d="M234.00 291.40 L241.69 291.40 L243.82 288.00 L250.29 288.00 L252.42 291.40 L259.60 291.40 L259.60 293.80 L234.00 293.80 Z" fill="#000" stroke="none"/>
<path d="M285.38 241.70 L291.95 237.50 L291.95 292.50 L285.38 292.50 Z" fill="#000" stroke="none"/><path d="M275.00 242.20 L285.38 240.70 L291.95 237.50 L291.44 239.90 L285.38 243.50 L275.00 244.00 Z" fill="#000" stroke="none"/><path d="M275.41 291.40 L283.22 291.40 L285.38 288.00 L291.95 288.00 L294.11 291.40 L301.40 291.40 L301.40 293.80 L275.41 293.80 Z" fill="#000" stroke="none"/>
<path d="M854.95 176.01 L854.80 177.09 L854.37 178.09 L853.69 178.95 L852.79 179.61 L851.75 180.03 L850.64 180.17 L849.52 180.03 L848.48 179.61 L847.59 178.95 L846.90 178.09 L846.47 177.09 L846.33 176.01 L846.47 174.93 L846.90 173.93 L847.59 173.07 L848.48 172.41 L849.52 171.99 L850.64 171.85 L851.75 171.99 L852.79 172.41 L853.69 173.07 L854.37 173.93 L854.80 174.93 Z" fill="#000" stroke="none"/><path d="M854.21 173.17 L854.11 173.96 L853.79 174.69 L853.29 175.32 L852.64 175.80 L851.88 176.11 L851.06 176.21 L850.24 176.11 L849.48 175.80 L848.83 175.32 L848.33 174.69 L848.01 173.96 L847.90 173.17 L848.01 172.38 L848.33 171.65 L848.83 171.02 L849.48 170.53 L850.24 170.23 L851.06 170.13 L851.88 170.23 L852.64 170.53 L853.29 171.02 L853.79 171.65 L854.11 172.38 Z" fill="#000" stroke="none"/><path d="M850.94 172.91 L851.11 172.44 L851.27 171.95 L851.40 171.47 L851.52 171.01 L851.63 170.55 L851.74 170.11 L851.85 169.68 L851.96 169.27 L852.09 168.87 L852.24 168.50 L852.41 168.14 L852.60 167.80 L852.82 167.48 L853.08 167.18 L853.40 166.86 L853.76 166.53 L854.16 166.20 L854.58 165.88 L855.04 165.57 L855.51 165.27 L856.00 164.98 L856.51 164.71 L857.04 164.46 L857.57 164.23 L858.10 164.03 L858.64 163.86 L859.17 163.72 L859.70 163.61 L860.25 163.53 L860.82 163.46 L861.42 163.42 L862.04 163.40 L862.66 163.40 L863.29 163.42 L863.92 163.47 L864.54 163.55 L865.16 163.65 L865.75 163.78 L866.32 163.93 L866.86 164.11 L867.36 164.31 L867.81 164.53 L868.25 164.79 L868.68 165.09 L869.11 165.44 L869.54 165.81 L869.95 166.22 L870.35 166.65 L870.74 167.09 L871.10 167.55 L871.44 168.01 L871.76 168.48 L872.04 168.93 L872.30 169.37 L872.52 169.79 L872.70 170.17 L872.84 170.52 L872.96 170.87 L873.05 171.22 L873.13 171.58 L873.19 171.95 L873.25 172.33 L873.29 172.73 L873.31 173.13 L873.33 173.55 L873.34 173.99 L873.34 174.43 L873.33 174.88 L873.32 175.35 L873.31 175.81 L873.29 176.27 L873.26 176.72 L873.23 177.18 L873.19 177.64 L873.14 178.11 L873.08 178.57 L873.01 179.05 L872.92 179.52 L872.82 179.99 L872.71 180.46 L872.58 180.93 L872.43 181.39 L872.26 181.85 L872.08 182.29 L871.88 182.73 L871.65 183.17 L871.41 183.60 L871.14 184.04 L870.85 184.49 L870.53 184.95 L870.19 185.42 L869.82 185.90 L869.44 186.39 L869.03 186.89 L868.59 187.42 L868.14 187.96 L867.67 188.51 L867.19 189.08 L866.69 189.66 L866.16 190.25 L865.60 190.86 L865.02 191.49 L864.40 192.13 L863.77 192.79 L863.13 193.45 L862.48 194.11 L861.83 194.77 L861.18 195.43 L860.53 196.09 L859.90 196.74 L859.28 197.37 L858.69 197.99 L858.12 198.59 L857.54 199.19 L856.97 199.79 L856.39 200.39 L855.81 200.98 L855.24 201.57 L854.68 202.15 L854.13 202.73 L853.60 203.29 L853.08 203.84 L852.58 204.38 L852.10 204.90 L851.65 205.41 L851.22 205.90 L850.82 206.37 L850.45 206.82 L850.10 207.26 L849.76 207.68 L849.45 208.09 L849.15 208.48 L848.88 208.87 L848.61 209.24 L848.36 209.60 L848.13 209.96 L847.90 210.31 L847.69 210.65 L847.49 210.98 L847.29 211.31 L847.08 211.68 L846.90 212.03 L846.74 212.37 L846.61 212.69 L846.49 213.00 L846.39 213.29 L846.30 213.58 L846.22 213.84 L846.14 214.10 L846.07 214.35 L845.99 214.59 L845.91 214.83 L845.82 215.09 L847.88 215.85 L848.00 215.57 L848.11 215.28 L848.21 215.01 L848.30 214.75 L848.39 214.50 L848.47 214.26 L848.56 214.02 L848.66 213.79 L848.76 213.55 L848.88 213.31 L849.02 213.06 L849.17 212.80 L849.36 212.52 L849.56 212.24 L849.77 211.94 L849.99 211.65 L850.22 211.35 L850.46 211.04 L850.72 210.73 L850.99 210.40 L851.28 210.07 L851.59 209.72 L851.91 209.37 L852.26 209.00 L852.62 208.61 L853.01 208.21 L853.42 207.79 L853.86 207.35 L854.33 206.90 L854.82 206.42 L855.34 205.93 L855.88 205.43 L856.44 204.91 L857.02 204.37 L857.61 203.83 L858.21 203.29 L858.83 202.73 L859.44 202.17 L860.07 201.61 L860.69 201.05 L861.31 200.49 L861.93 199.93 L862.58 199.36 L863.25 198.77 L863.94 198.17 L864.64 197.57 L865.35 196.96 L866.06 196.34 L866.77 195.73 L867.47 195.11 L868.16 194.50 L868.83 193.90 L869.48 193.30 L870.11 192.72 L870.69 192.15 L871.24 191.61 L871.77 191.10 L872.29 190.59 L872.80 190.09 L873.29 189.59 L873.78 189.09 L874.25 188.59 L874.71 188.08 L875.16 187.56 L875.60 187.03 L876.02 186.48 L876.42 185.92 L876.80 185.34 L877.16 184.74 L877.50 184.13 L877.81 183.51 L878.10 182.89 L878.36 182.27 L878.60 181.64 L878.82 181.01 L879.02 180.38 L879.19 179.74 L879.34 179.11 L879.47 178.48 L879.57 177.85 L879.64 177.23 L879.69 176.61 L879.72 176.00 L879.73 175.41 L879.72 174.82 L879.69 174.23 L879.64 173.62 L879.56 173.00 L879.46 172.38 L879.33 171.75 L879.17 171.12 L878.98 170.49 L878.74 169.86 L878.47 169.23 L878.15 168.62 L877.78 168.02 L877.38 167.44 L876.94 166.90 L876.47 166.38 L875.96 165.87 L875.42 165.38 L874.86 164.91 L874.26 164.45 L873.65 164.02 L873.02 163.60 L872.37 163.21 L871.71 162.85 L871.05 162.52 L870.37 162.22 L869.70 161.95 L869.02 161.72 L868.33 161.53 L867.63 161.38 L866.92 161.27 L866.20 161.18 L865.48 161.12 L864.76 161.09 L864.03 161.08 L863.31 161.10 L862.60 161.13 L861.89 161.19 L861.20 161.27 L860.53 161.37 L859.88 161.49 L859.25 161.63 L858.62 161.79 L858.00 161.99 L857.39 162.21 L856.78 162.46 L856.18 162.73 L855.59 163.01 L855.02 163.32 L854.46 163.64 L853.92 163.97 L853.40 164.31 L852.90 164.67 L852.43 165.03 L851.98 165.39 L851.56 165.77 L851.16 166.18 L850.80 166.61 L850.48 167.06 L850.20 167.52 L849.94 167.98 L849.72 168.44 L849.51 168.90 L849.32 169.35 L849.14 169.80 L848.96 170.23 L848.79 170.65 L848.61 171.04 L848.43 171.42 L848.23 171.81 Z" fill="#000" stroke="none"/><path d="M845.80 213.34 L879.98 213.34 L879.98 217.80 L845.80 217.80 Z" fill="#000" stroke="none"/><path d="M877.14 213.54 L878.72 204.01 L880.30 204.01 L880.30 217.80 L877.14 217.80 Z" fill="#000" stroke="none"/>
<path d="M897.05 176.01 L896.90 177.09 L896.47 178.09 L895.79 178.95 L894.89 179.61 L893.85 180.03 L892.74 180.17 L891.62 180.03 L890.58 179.61 L889.69 178.95 L889.00 178.09 L888.57 177.09 L888.43 176.01 L888.57 174.93 L889.00 173.93 L889.69 173.07 L890.58 172.41 L891.62 171.99 L892.74 171.85 L893.85 171.99 L894.89 172.41 L895.79 173.07 L896.47 173.93 L896.90 174.93 Z" fill="#000" stroke="none"/><path d="M896.31 173.17 L896.21 173.96 L895.89 174.69 L895.39 175.32 L894.74 175.80 L893.98 176.11 L893.16 176.21 L892.34 176.11 L891.58 175.80 L890.93 175.32 L890.43 174.69 L890.11 173.96 L890.00 173.17 L890.11 172.38 L890.43 171.65 L890.93 171.02 L891.58 170.53 L892.34 170.23 L893.16 170.13 L893.98 170.23 L894.74 170.53 L895.39 171.02 L895.89 171.65 L896.21 172.38 Z" fill="#000" stroke="none"/><path d="M893.04 172.91 L893.21 172.44 L893.37 171.95 L893.50 171.47 L893.62 171.01 L893.73 170.55 L893.84 170.11 L893.95 169.68 L894.06 169.27 L894.19 168.87 L894.34 168.50 L894.51 168.14 L894.70 167.80 L894.92 167.48 L895.18 167.18 L895.50 166.86 L895.86 166.53 L896.26 166.20 L896.68 165.88 L897.14 165.57 L897.61 165.27 L898.10 164.98 L898.61 164.71 L899.14 164.46 L899.67 164.23 L900.20 164.03 L900.74 163.86 L901.27 163.72 L901.80 163.61 L902.35 163.53 L902.92 163.46 L903.52 163.42 L904.14 163.40 L904.76 163.40 L905.39 163.42 L906.02 163.47 L906.64 163.55 L907.26 163.65 L907.85 163.78 L908.42 163.93 L908.96 164.11 L909.46 164.31 L909.91 164.53 L910.35 164.79 L910.78 165.09 L911.21 165.44 L911.64 165.81 L912.05 166.22 L912.45 166.65 L912.84 167.09 L913.20 167.55 L913.54 168.01 L913.86 168.48 L914.14 168.93 L914.40 169.37 L914.62 169.79 L914.80 170.17 L914.94 170.52 L915.06 170.87 L915.15 171.22 L915.23 171.58 L915.29 171.95 L915.35 172.33 L915.39 172.73 L915.41 173.13 L915.43 173.55 L915.44 173.99 L915.44 174.43 L915.43 174.88 L915.42 175.35 L915.41 175.81 L915.39 176.27 L915.36 176.72 L915.33 177.18 L915.29 177.64 L915.24 178.11 L915.18 178.57 L915.11 179.05 L915.02 179.52 L914.92 179.99 L914.81 180.46 L914.68 180.93 L914.53 181.39 L914.36 181.85 L914.18 182.29 L913.98 182.73 L913.75 183.17 L913.51 183.60 L913.24 184.04 L912.95 184.49 L912.63 184.95 L912.29 185.42 L911.92 185.90 L911.54 186.39 L911.13 186.89 L910.69 187.42 L910.24 187.96 L909.77 188.51 L909.29 189.08 L908.79 189.66 L908.26 190.25 L907.70 190.86 L907.12 191.49 L906.50 192.13 L905.87 192.79 L905.23 193.45 L904.58 194.11 L903.93 194.77 L903.28 195.43 L902.63 196.09 L902.00 196.74 L901.38 197.37 L900.79 197.99 L900.22 198.59 L899.64 199.19 L899.07 199.79 L898.49 200.39 L897.91 200.98 L897.34 201.57 L896.78 202.15 L896.23 202.73 L895.70 203.29 L895.18 203.84 L894.68 204.38 L894.20 204.90 L893.75 205.41 L893.32 205.90 L892.92 206.37 L892.55 206.82 L892.20 207.26 L891.86 207.68 L891.55 208.09 L891.25 208.48 L890.98 208.87 L890.71 209.24 L890.46 209.60 L890.23 209.96 L890.00 210.31 L889.79 210.65 L889.59 210.98 L889.39 211.31 L889.18 211.68 L889.00 212.03 L888.84 212.37 L888.71 212.69 L888.59 213.00 L888.49 213.29 L888.40 213.58 L888.32 213.84 L888.24 214.10 L888.17 214.35 L888.09 214.59 L888.01 214.83 L887.92 215.09 L889.98 215.85 L890.10 215.57 L890.21 215.28 L890.31 215.01 L890.40 214.75 L890.49 214.50 L890.57 214.26 L890.66 214.02 L890.76 213.79 L890.86 213.55 L890.98 213.31 L891.12 213.06 L891.27 212.80 L891.46 212.52 L891.66 212.24 L891.87 211.94 L892.09 211.65 L892.32 211.35 L892.56 211.04 L892.82 210.73 L893.09 210.40 L893.38 210.07 L893.69 209.72 L894.01 209.37 L894.36 209.00 L894.72 208.61 L895.11 208.21 L895.52 207.79 L895.96 207.35 L896.43 206.90 L896.92 206.42 L897.44 205.93 L897.98 205.43 L898.54 204.91 L899.12 204.37 L899.71 203.83 L900.31 203.29 L900.93 202.73 L901.54 202.17 L902.17 201.61 L902.79 201.05 L903.41 200.49 L904.03 199.93 L904.68 199.36 L905.35 198.77 L906.04 198.17 L906.74 197.57 L907.45 196.96 L908.16 196.34 L908.87 195.73 L909.57 195.11 L910.26 194.50 L910.93 193.90 L911.58 193.30 L912.21 192.72 L912.79 192.15 L913.34 191.61 L913.87 191.10 L914.39 190.59 L914.90 190.09 L915.39 189.59 L915.88 189.09 L916.35 188.59 L916.81 188.08 L917.26 187.56 L917.70 187.03 L918.12 186.48 L918.52 185.92 L918.90 185.34 L919.26 184.74 L919.60 184.13 L919.91 183.51 L920.20 182.89 L920.46 182.27 L920.70 181.64 L920.92 181.01 L921.12 180.38 L921.29 179.74 L921.44 179.11 L921.57 178.48 L921.67 177.85 L921.74 177.23 L921.79 176.61 L921.82 176.00 L921.83 175.41 L921.82 174.82 L921.79 174.23 L921.74 173.62 L921.66 173.00 L921.56 172.38 L921.43 171.75 L921.27 171.12 L921.08 170.49 L920.84 169.86 L920.57 169.23 L920.25 168.62 L919.88 168.02 L919.48 167.44 L919.04 166.90 L918.57 166.38 L918.06 165.87 L917.52 165.38 L916.96 164.91 L916.36 164.45 L915.75 164.02 L915.12 163.60 L914.47 163.21 L913.81 162.85 L913.15 162.52 L912.47 162.22 L911.80 161.95 L911.12 161.72 L910.43 161.53 L909.73 161.38 L909.02 161.27 L908.30 161.18 L907.58 161.12 L906.86 161.09 L906.13 161.08 L905.41 161.10 L904.70 161.13 L903.99 161.19 L903.30 161.27 L902.63 161.37 L901.98 161.49 L901.35 161.63 L900.72 161.79 L900.10 161.99 L899.49 162.21 L898.88 162.46 L898.28 162.73 L897.69 163.01 L897.12 163.32 L896.56 163.64 L896.02 163.97 L895.50 164.31 L895.00 164.67 L894.53 165.03 L894.08 165.39 L893.66 165.77 L893.26 166.18 L892.90 166.61 L892.58 167.06 L892.30 167.52 L892.04 167.98 L891.82 168.44 L891.61 168.90 L891.42 169.35 L891.24 169.80 L891.06 170.23 L890.89 170.65 L890.71 171.04 L890.53 171.42 L890.33 171.81 Z" fill="#000" stroke="none"/><path d="M887.90 213.34 L922.08 213.34 L922.08 217.80 L887.90 217.80 Z" fill="#000" stroke="none"/><path d="M919.24 213.54 L920.82 204.01 L922.40 204.01 L922.40 217.80 L919.24 217.80 Z" fill="#000" stroke="none"/>
<path d="M882.39 306.71 L882.24 307.75 L881.82 308.72 L881.14 309.56 L880.26 310.20 L879.24 310.60 L878.14 310.74 L877.04 310.60 L876.02 310.20 L875.14 309.56 L874.46 308.72 L874.04 307.75 L873.89 306.71 L874.04 305.66 L874.46 304.69 L875.14 303.85 L876.02 303.21 L877.04 302.81 L878.14 302.67 L879.24 302.81 L880.26 303.21 L881.14 303.85 L881.82 304.69 L882.24 305.66 Z" fill="#000" stroke="none"/><path d="M881.56 304.34 L881.46 305.06 L881.17 305.72 L880.71 306.29 L880.11 306.73 L879.41 307.01 L878.66 307.10 L877.91 307.01 L877.21 306.73 L876.61 306.29 L876.15 305.72 L875.86 305.06 L875.76 304.34 L875.86 303.63 L876.15 302.97 L876.61 302.40 L877.21 301.96 L877.91 301.68 L878.66 301.59 L879.41 301.68 L880.11 301.96 L880.71 302.40 L881.17 302.97 L881.46 303.63 Z" fill="#000" stroke="none"/><path d="M878.77 304.23 L879.00 303.83 L879.22 303.40 L879.43 302.98 L879.63 302.56 L879.81 302.15 L879.99 301.76 L880.17 301.37 L880.36 301.00 L880.55 300.65 L880.76 300.31 L880.98 299.99 L881.21 299.70 L881.47 299.43 L881.76 299.17 L882.10 298.91 L882.48 298.65 L882.88 298.40 L883.31 298.15 L883.76 297.92 L884.22 297.70 L884.70 297.49 L885.20 297.30 L885.70 297.13 L886.20 296.98 L886.71 296.85 L887.21 296.74 L887.71 296.66 L888.20 296.61 L888.71 296.58 L889.24 296.57 L889.79 296.58 L890.34 296.61 L890.91 296.66 L891.47 296.73 L892.03 296.82 L892.58 296.93 L893.12 297.06 L893.64 297.21 L894.13 297.38 L894.59 297.57 L895.02 297.78 L895.41 298.00 L895.77 298.24 L896.12 298.51 L896.47 298.82 L896.80 299.15 L897.12 299.50 L897.43 299.88 L897.73 300.26 L898.01 300.66 L898.27 301.07 L898.52 301.48 L898.75 301.89 L898.96 302.30 L899.15 302.70 L899.33 303.08 L899.47 303.45 L899.61 303.83 L899.73 304.22 L899.84 304.62 L899.93 305.04 L900.02 305.46 L900.09 305.89 L900.15 306.32 L900.20 306.75 L900.23 307.18 L900.26 307.61 L900.27 308.03 L900.27 308.44 L900.26 308.85 L900.25 309.25 L900.22 309.67 L900.19 310.09 L900.14 310.51 L900.08 310.93 L900.01 311.35 L899.93 311.78 L899.84 312.19 L899.73 312.60 L899.60 313.00 L899.47 313.39 L899.32 313.76 L899.15 314.12 L898.97 314.46 L898.77 314.79 L898.53 315.13 L898.26 315.48 L897.94 315.85 L897.60 316.21 L897.23 316.57 L896.85 316.93 L896.45 317.28 L896.04 317.62 L895.62 317.95 L895.21 318.25 L894.81 318.54 L894.41 318.80 L894.05 319.04 L893.69 319.25 L893.34 319.42 L892.99 319.57 L892.63 319.70 L892.26 319.80 L891.88 319.90 L891.49 319.98 L891.09 320.05 L890.68 320.13 L890.26 320.20 L889.83 320.29 L889.39 320.39 L888.96 320.50 L889.29 322.04 L889.70 321.99 L890.10 321.96 L890.50 321.93 L890.91 321.91 L891.33 321.89 L891.76 321.86 L892.21 321.82 L892.67 321.77 L893.14 321.71 L893.63 321.61 L894.14 321.49 L894.66 321.33 L895.18 321.14 L895.66 320.95 L896.15 320.74 L896.66 320.51 L897.18 320.26 L897.72 319.99 L898.26 319.70 L898.80 319.40 L899.34 319.07 L899.88 318.73 L900.40 318.37 L900.90 317.98 L901.39 317.57 L901.85 317.13 L902.27 316.67 L902.66 316.19 L903.02 315.71 L903.35 315.20 L903.65 314.68 L903.93 314.15 L904.19 313.61 L904.42 313.05 L904.63 312.50 L904.81 311.93 L904.97 311.36 L905.10 310.79 L905.20 310.23 L905.28 309.66 L905.33 309.09 L905.36 308.52 L905.36 307.94 L905.34 307.36 L905.29 306.77 L905.21 306.18 L905.11 305.59 L904.99 305.00 L904.84 304.42 L904.66 303.84 L904.46 303.26 L904.23 302.70 L903.97 302.14 L903.68 301.60 L903.37 301.08 L903.04 300.59 L902.68 300.10 L902.29 299.63 L901.87 299.17 L901.44 298.72 L900.98 298.28 L900.50 297.86 L900.00 297.46 L899.49 297.07 L898.96 296.71 L898.42 296.38 L897.86 296.07 L897.30 295.79 L896.72 295.54 L896.13 295.32 L895.52 295.14 L894.90 294.99 L894.26 294.86 L893.62 294.76 L892.98 294.68 L892.33 294.62 L891.68 294.59 L891.03 294.57 L890.40 294.57 L889.77 294.59 L889.15 294.63 L888.55 294.68 L887.97 294.76 L887.39 294.85 L886.81 294.97 L886.23 295.11 L885.66 295.27 L885.09 295.45 L884.52 295.65 L883.97 295.86 L883.43 296.09 L882.90 296.33 L882.39 296.59 L881.89 296.85 L881.42 297.13 L880.96 297.41 L880.53 297.71 L880.11 298.04 L879.71 298.39 L879.35 298.77 L879.02 299.15 L878.72 299.54 L878.43 299.94 L878.17 300.33 L877.91 300.72 L877.67 301.11 L877.43 301.49 L877.20 301.86 L876.97 302.21 L876.73 302.54 L876.48 302.88 Z" fill="#000" stroke="none"/><path d="M885.29 322.16 L885.72 322.16 L886.16 322.16 L886.61 322.16 L887.07 322.16 L887.52 322.16 L887.98 322.16 L888.42 322.16 L888.86 322.16 L889.29 322.16 L889.71 322.16 L890.10 322.17 L890.48 322.18 L890.83 322.19 L891.15 322.21 L891.47 322.23 L891.75 322.25 L892.01 322.28 L892.25 322.31 L892.46 322.34 L892.67 322.37 L892.87 322.41 L893.07 322.45 L893.27 322.49 L893.48 322.53 L893.70 322.57 L893.93 322.60 L894.17 322.64 L894.43 320.89 L894.21 320.86 L894.00 320.83 L893.80 320.80 L893.60 320.77 L893.40 320.74 L893.18 320.71 L892.96 320.68 L892.72 320.65 L892.47 320.62 L892.20 320.59 L891.90 320.57 L891.58 320.55 L891.24 320.53 L890.89 320.53 L890.51 320.52 L890.12 320.52 L889.71 320.52 L889.29 320.52 L888.85 320.53 L888.41 320.53 L887.96 320.54 L887.50 320.55 L887.05 320.56 L886.60 320.57 L886.15 320.57 L885.71 320.58 L885.29 320.58 Z" fill="#000" stroke="none"/><path d="M891.35 322.33 L891.89 322.65 L892.45 322.96 L893.01 323.26 L893.57 323.55 L894.12 323.84 L894.67 324.12 L895.20 324.41 L895.71 324.70 L896.20 324.99 L896.66 325.29 L897.09 325.59 L897.49 325.90 L897.85 326.22 L898.19 326.55 L898.53 326.92 L898.88 327.32 L899.22 327.74 L899.56 328.18 L899.88 328.64 L900.19 329.10 L900.49 329.58 L900.77 330.05 L901.03 330.52 L901.27 330.99 L901.49 331.44 L901.69 331.88 L901.85 332.30 L901.99 332.70 L902.11 333.08 L902.21 333.46 L902.30 333.85 L902.37 334.24 L902.43 334.63 L902.48 335.03 L902.51 335.43 L902.53 335.84 L902.54 336.25 L902.54 336.66 L902.53 337.07 L902.51 337.48 L902.47 337.89 L902.43 338.30 L902.37 338.71 L902.30 339.14 L902.22 339.58 L902.13 340.03 L902.02 340.48 L901.90 340.94 L901.77 341.39 L901.62 341.83 L901.46 342.26 L901.29 342.68 L901.11 343.09 L900.92 343.47 L900.71 343.83 L900.50 344.17 L900.26 344.51 L899.99 344.86 L899.69 345.21 L899.36 345.57 L898.99 345.92 L898.61 346.27 L898.20 346.61 L897.77 346.94 L897.32 347.25 L896.87 347.55 L896.40 347.82 L895.93 348.07 L895.46 348.29 L895.00 348.48 L894.54 348.64 L894.05 348.76 L893.55 348.87 L893.03 348.94 L892.50 349.00 L891.96 349.03 L891.42 349.04 L890.87 349.03 L890.33 349.01 L889.79 348.98 L889.26 348.93 L888.74 348.87 L888.23 348.81 L887.74 348.74 L887.26 348.67 L886.80 348.58 L886.33 348.48 L885.87 348.36 L885.42 348.24 L884.98 348.10 L884.55 347.95 L884.13 347.79 L883.72 347.61 L883.34 347.43 L882.97 347.24 L882.62 347.04 L882.29 346.83 L882.00 346.62 L881.73 346.39 L881.49 346.15 L881.26 345.88 L881.06 345.60 L880.86 345.29 L880.67 344.96 L880.49 344.62 L880.30 344.26 L880.11 343.89 L879.91 343.50 L879.70 343.11 L879.47 342.71 L879.23 342.34 L876.84 343.91 L877.10 344.21 L877.34 344.50 L877.57 344.82 L877.81 345.15 L878.06 345.50 L878.32 345.86 L878.58 346.22 L878.87 346.58 L879.18 346.95 L879.51 347.30 L879.88 347.65 L880.28 347.98 L880.70 348.28 L881.11 348.53 L881.53 348.77 L881.96 348.99 L882.41 349.20 L882.86 349.40 L883.34 349.59 L883.82 349.77 L884.31 349.94 L884.81 350.09 L885.32 350.24 L885.83 350.37 L886.35 350.49 L886.88 350.59 L887.40 350.69 L887.93 350.77 L888.47 350.84 L889.03 350.91 L889.61 350.96 L890.20 351.01 L890.79 351.04 L891.40 351.06 L892.01 351.07 L892.62 351.06 L893.23 351.04 L893.85 351.00 L894.46 350.94 L895.07 350.86 L895.68 350.75 L896.28 350.63 L896.88 350.49 L897.49 350.34 L898.11 350.17 L898.74 349.98 L899.37 349.76 L899.99 349.53 L900.61 349.28 L901.23 349.00 L901.83 348.70 L902.42 348.37 L902.99 348.00 L903.54 347.61 L904.06 347.18 L904.55 346.72 L905.02 346.23 L905.46 345.72 L905.88 345.19 L906.27 344.64 L906.63 344.07 L906.96 343.49 L907.27 342.90 L907.55 342.30 L907.81 341.70 L908.04 341.09 L908.24 340.49 L908.41 339.88 L908.56 339.28 L908.67 338.68 L908.76 338.07 L908.83 337.45 L908.87 336.83 L908.88 336.20 L908.86 335.56 L908.81 334.93 L908.73 334.29 L908.62 333.65 L908.47 333.01 L908.29 332.38 L908.08 331.75 L907.83 331.13 L907.54 330.51 L907.22 329.91 L906.86 329.33 L906.47 328.75 L906.05 328.19 L905.60 327.63 L905.13 327.10 L904.64 326.58 L904.13 326.07 L903.60 325.58 L903.06 325.11 L902.50 324.67 L901.94 324.25 L901.37 323.85 L900.78 323.47 L900.16 323.12 L899.51 322.81 L898.87 322.54 L898.22 322.31 L897.58 322.11 L896.94 321.93 L896.31 321.78 L895.68 321.63 L895.05 321.50 L894.44 321.37 L893.84 321.24 L893.24 321.10 L892.66 320.96 L892.07 320.80 Z" fill="#000" stroke="none"/><path d="M881.87 342.53 L881.76 343.29 L881.45 344.01 L880.96 344.62 L880.32 345.09 L879.57 345.38 L878.76 345.48 L877.96 345.38 L877.21 345.09 L876.56 344.62 L876.07 344.01 L875.76 343.29 L875.65 342.53 L875.76 341.77 L876.07 341.05 L876.56 340.44 L877.21 339.97 L877.96 339.68 L878.76 339.58 L879.57 339.68 L880.32 339.97 L880.96 340.44 L881.45 341.05 L881.76 341.77 Z" fill="#000" stroke="none"/><path d="M882.60 339.38 L882.44 340.48 L882.00 341.50 L881.29 342.37 L880.37 343.05 L879.29 343.47 L878.14 343.61 L876.99 343.47 L875.91 343.05 L874.99 342.37 L874.28 341.50 L873.84 340.48 L873.69 339.38 L873.84 338.29 L874.28 337.26 L874.99 336.39 L875.91 335.72 L876.99 335.29 L878.14 335.15 L879.29 335.29 L880.37 335.72 L881.29 336.39 L882.00 337.26 L882.44 338.29 Z" fill="#000" stroke="none"/>
<path d="M935.47 296.69 L937.47 294.70 L941.58 294.70 L941.58 349.31 L935.47 349.31 Z" fill="#000" stroke="none"/><path d="M937.23 294.90 L935.30 297.79 L933.37 300.67 L931.45 303.56 L929.52 306.45 L927.59 309.33 L925.66 312.22 L923.74 315.11 L921.81 318.00 L919.88 320.88 L917.96 323.77 L916.03 326.66 L914.10 329.54 L912.17 332.43 L913.51 333.22 L915.44 330.34 L917.36 327.45 L919.29 324.56 L921.22 321.68 L923.15 318.79 L925.07 315.90 L927.00 313.01 L928.93 310.13 L930.85 307.24 L932.78 304.35 L934.71 301.47 L936.64 298.58 L938.56 295.69 Z" fill="#000" stroke="none"/><path d="M912.00 331.83 L950.00 331.83 L950.00 334.22 L912.00 334.22 Z" fill="#000" stroke="none"/><path d="M925.79 348.32 L933.05 348.32 L935.47 345.34 L941.58 345.34 L943.58 348.32 L950.00 348.32 L950.00 350.60 L925.79 350.60 Z" fill="#000" stroke="none"/>
<path d="M32.42 615.80 L34.33 613.80 L38.26 613.80 L38.26 668.80 L32.42 668.80 Z" fill="#000" stroke="none"/><path d="M34.10 614.00 L32.26 616.91 L30.42 619.82 L28.58 622.72 L26.73 625.63 L24.89 628.54 L23.05 631.45 L21.21 634.35 L19.37 637.26 L17.53 640.17 L15.69 643.08 L13.85 645.99 L12.01 648.89 L10.17 651.80 L11.44 652.60 L13.28 649.69 L15.12 646.78 L16.97 643.88 L18.81 640.97 L20.65 638.06 L22.49 635.15 L24.33 632.25 L26.17 629.34 L28.01 626.43 L29.85 623.52 L31.69 620.61 L33.53 617.71 L35.37 614.80 Z" fill="#000" stroke="none"/><path d="M10.00 651.20 L46.30 651.20 L46.30 653.60 L10.00 653.60 Z" fill="#000" stroke="none"/><path d="M23.17 667.80 L30.11 667.80 L32.42 664.80 L38.26 664.80 L40.17 667.80 L46.30 667.80 L46.30 670.10 L23.17 670.10 Z" fill="#000" stroke="none"/>
<path d="M62.01 628.53 L61.86 629.60 L61.45 630.60 L60.79 631.46 L59.93 632.11 L58.93 632.53 L57.86 632.67 L56.78 632.53 L55.78 632.11 L54.92 631.46 L54.26 630.60 L53.85 629.60 L53.71 628.53 L53.85 627.46 L54.26 626.46 L54.92 625.61 L55.78 624.95 L56.78 624.54 L57.86 624.39 L58.93 624.54 L59.93 624.95 L60.79 625.61 L61.45 626.46 L61.86 627.46 Z" fill="#000" stroke="none"/><path d="M61.30 625.71 L61.19 626.49 L60.89 627.22 L60.41 627.85 L59.78 628.33 L59.05 628.63 L58.26 628.73 L57.48 628.63 L56.74 628.33 L56.11 627.85 L55.63 627.22 L55.33 626.49 L55.22 625.71 L55.33 624.92 L55.63 624.19 L56.11 623.57 L56.74 623.08 L57.48 622.78 L58.26 622.68 L59.05 622.78 L59.78 623.08 L60.41 623.57 L60.89 624.19 L61.19 624.92 Z" fill="#000" stroke="none"/><path d="M58.15 625.44 L58.31 624.98 L58.46 624.50 L58.59 624.02 L58.70 623.55 L58.81 623.10 L58.91 622.66 L59.02 622.23 L59.13 621.82 L59.26 621.43 L59.40 621.06 L59.56 620.70 L59.74 620.37 L59.95 620.05 L60.21 619.74 L60.51 619.43 L60.86 619.10 L61.24 618.78 L61.65 618.46 L62.09 618.14 L62.54 617.84 L63.02 617.56 L63.51 617.29 L64.01 617.04 L64.52 616.82 L65.04 616.62 L65.55 616.45 L66.07 616.31 L66.58 616.20 L67.10 616.12 L67.66 616.05 L68.23 616.01 L68.83 615.99 L69.43 615.99 L70.03 616.01 L70.64 616.06 L71.24 616.14 L71.83 616.24 L72.40 616.36 L72.94 616.52 L73.46 616.69 L73.94 616.89 L74.38 617.12 L74.80 617.37 L75.22 617.67 L75.63 618.01 L76.04 618.39 L76.44 618.79 L76.83 619.22 L77.20 619.66 L77.55 620.12 L77.88 620.58 L78.18 621.04 L78.46 621.49 L78.70 621.93 L78.91 622.35 L79.09 622.73 L79.22 623.07 L79.33 623.42 L79.42 623.77 L79.50 624.12 L79.56 624.49 L79.61 624.87 L79.65 625.27 L79.68 625.67 L79.69 626.09 L79.70 626.52 L79.70 626.96 L79.70 627.41 L79.69 627.87 L79.67 628.34 L79.65 628.79 L79.63 629.24 L79.60 629.69 L79.56 630.15 L79.51 630.62 L79.45 631.08 L79.38 631.55 L79.30 632.02 L79.21 632.49 L79.10 632.96 L78.97 633.42 L78.83 633.88 L78.67 634.34 L78.49 634.78 L78.29 635.22 L78.08 635.65 L77.84 636.08 L77.58 636.52 L77.30 636.97 L77.00 637.42 L76.67 637.89 L76.32 638.37 L75.95 638.86 L75.55 639.36 L75.13 639.88 L74.70 640.41 L74.24 640.97 L73.78 641.54 L73.30 642.11 L72.80 642.70 L72.26 643.30 L71.69 643.93 L71.10 644.57 L70.50 645.22 L69.88 645.88 L69.25 646.54 L68.62 647.20 L68.00 647.85 L67.38 648.50 L66.77 649.15 L66.18 649.78 L65.61 650.39 L65.05 650.99 L64.50 651.59 L63.94 652.19 L63.39 652.78 L62.84 653.37 L62.29 653.96 L61.75 654.54 L61.22 655.11 L60.71 655.67 L60.21 656.21 L59.73 656.75 L59.27 657.27 L58.83 657.78 L58.42 658.26 L58.03 658.73 L57.67 659.18 L57.33 659.61 L57.01 660.03 L56.71 660.44 L56.43 660.83 L56.16 661.21 L55.91 661.59 L55.67 661.95 L55.44 662.30 L55.23 662.64 L55.02 662.98 L54.82 663.32 L54.63 663.65 L54.44 664.01 L54.26 664.36 L54.11 664.70 L53.98 665.02 L53.86 665.32 L53.77 665.62 L53.68 665.90 L53.60 666.17 L53.53 666.42 L53.46 666.67 L53.39 666.91 L53.31 667.15 L53.22 667.40 L55.21 668.16 L55.32 667.88 L55.43 667.59 L55.52 667.32 L55.61 667.06 L55.69 666.81 L55.77 666.57 L55.86 666.34 L55.95 666.11 L56.05 665.87 L56.16 665.64 L56.29 665.39 L56.45 665.13 L56.63 664.85 L56.82 664.57 L57.02 664.27 L57.23 663.98 L57.45 663.68 L57.69 663.38 L57.94 663.06 L58.20 662.74 L58.48 662.41 L58.77 662.07 L59.08 661.71 L59.41 661.34 L59.76 660.96 L60.14 660.56 L60.53 660.14 L60.96 659.71 L61.40 659.26 L61.88 658.78 L62.38 658.29 L62.90 657.79 L63.44 657.27 L64.00 656.75 L64.57 656.21 L65.15 655.66 L65.73 655.11 L66.33 654.55 L66.93 654.00 L67.53 653.44 L68.12 652.88 L68.72 652.32 L69.35 651.75 L69.99 651.17 L70.65 650.58 L71.33 649.98 L72.01 649.37 L72.70 648.76 L73.38 648.14 L74.05 647.53 L74.72 646.93 L75.36 646.33 L75.99 645.73 L76.59 645.15 L77.16 644.58 L77.68 644.05 L78.19 643.54 L78.69 643.03 L79.18 642.53 L79.66 642.04 L80.12 641.54 L80.58 641.04 L81.03 640.54 L81.46 640.02 L81.88 639.49 L82.28 638.95 L82.67 638.39 L83.03 637.81 L83.38 637.21 L83.70 636.60 L84.00 635.99 L84.28 635.38 L84.53 634.76 L84.77 634.13 L84.98 633.50 L85.17 632.88 L85.33 632.25 L85.48 631.62 L85.60 630.99 L85.69 630.36 L85.77 629.74 L85.82 629.13 L85.84 628.52 L85.85 627.94 L85.84 627.35 L85.81 626.76 L85.76 626.15 L85.69 625.54 L85.59 624.92 L85.47 624.29 L85.32 623.67 L85.13 623.04 L84.90 622.41 L84.63 621.79 L84.33 621.18 L83.98 620.58 L83.59 620.01 L83.17 619.47 L82.71 618.95 L82.23 618.45 L81.71 617.96 L81.16 617.49 L80.59 617.04 L80.00 616.60 L79.39 616.19 L78.77 615.80 L78.14 615.44 L77.50 615.11 L76.85 614.81 L76.20 614.54 L75.54 614.32 L74.88 614.13 L74.21 613.98 L73.53 613.87 L72.84 613.78 L72.14 613.72 L71.44 613.69 L70.75 613.68 L70.05 613.70 L69.36 613.73 L68.69 613.79 L68.02 613.87 L67.38 613.97 L66.75 614.09 L66.14 614.23 L65.54 614.39 L64.94 614.58 L64.35 614.81 L63.76 615.05 L63.19 615.32 L62.62 615.60 L62.07 615.91 L61.53 616.22 L61.01 616.56 L60.51 616.90 L60.03 617.25 L59.58 617.61 L59.15 617.97 L58.75 618.35 L58.36 618.75 L58.01 619.19 L57.70 619.63 L57.43 620.08 L57.19 620.54 L56.97 621.00 L56.77 621.46 L56.59 621.91 L56.41 622.35 L56.24 622.78 L56.07 623.20 L55.91 623.59 L55.73 623.97 L55.54 624.35 Z" fill="#000" stroke="none"/><path d="M53.20 665.66 L86.10 665.66 L86.10 670.10 L53.20 670.10 Z" fill="#000" stroke="none"/><path d="M83.36 665.86 L84.88 656.38 L86.40 656.38 L86.40 670.10 L83.36 670.10 Z" fill="#000" stroke="none"/>
<path d="M364.25 944.98 L364.11 946.04 L363.71 947.02 L363.06 947.87 L362.21 948.52 L361.23 948.93 L360.18 949.07 L359.12 948.93 L358.14 948.52 L357.29 947.87 L356.65 947.02 L356.24 946.04 L356.10 944.98 L356.24 943.92 L356.65 942.93 L357.29 942.08 L358.14 941.43 L359.12 941.03 L360.18 940.89 L361.23 941.03 L362.21 941.43 L363.06 942.08 L363.71 942.93 L364.11 943.92 Z" fill="#000" stroke="none"/><path d="M363.46 942.58 L363.36 943.31 L363.08 943.98 L362.64 944.56 L362.07 945.00 L361.39 945.28 L360.67 945.38 L359.95 945.28 L359.28 945.00 L358.71 944.56 L358.26 943.98 L357.99 943.31 L357.89 942.58 L357.99 941.86 L358.26 941.19 L358.71 940.61 L359.28 940.16 L359.95 939.88 L360.67 939.79 L361.39 939.88 L362.07 940.16 L362.64 940.61 L363.08 941.19 L363.36 941.86 Z" fill="#000" stroke="none"/><path d="M360.78 942.47 L361.00 942.06 L361.22 941.63 L361.42 941.20 L361.60 940.77 L361.78 940.36 L361.95 939.96 L362.13 939.57 L362.31 939.19 L362.49 938.83 L362.69 938.49 L362.90 938.17 L363.12 937.87 L363.37 937.59 L363.65 937.33 L363.98 937.07 L364.34 936.81 L364.73 936.55 L365.14 936.30 L365.57 936.06 L366.01 935.84 L366.47 935.63 L366.95 935.44 L367.42 935.26 L367.91 935.11 L368.40 934.98 L368.88 934.87 L369.36 934.79 L369.83 934.74 L370.32 934.71 L370.83 934.70 L371.35 934.71 L371.88 934.74 L372.42 934.79 L372.96 934.86 L373.50 934.95 L374.03 935.06 L374.55 935.20 L375.04 935.35 L375.52 935.52 L375.96 935.71 L376.37 935.92 L376.74 936.14 L377.09 936.39 L377.43 936.67 L377.76 936.98 L378.08 937.31 L378.39 937.67 L378.69 938.05 L378.97 938.44 L379.24 938.85 L379.49 939.26 L379.73 939.68 L379.95 940.10 L380.15 940.51 L380.34 940.91 L380.50 941.30 L380.65 941.67 L380.77 942.06 L380.89 942.46 L380.99 942.87 L381.09 943.29 L381.17 943.71 L381.24 944.15 L381.29 944.59 L381.34 945.02 L381.37 945.46 L381.39 945.89 L381.41 946.32 L381.41 946.74 L381.40 947.15 L381.39 947.56 L381.36 947.98 L381.33 948.41 L381.28 948.83 L381.23 949.26 L381.16 949.69 L381.08 950.12 L380.99 950.54 L380.89 950.95 L380.77 951.36 L380.64 951.75 L380.49 952.13 L380.33 952.50 L380.16 952.84 L379.97 953.18 L379.74 953.52 L379.48 953.88 L379.18 954.25 L378.85 954.62 L378.49 954.99 L378.12 955.35 L377.74 955.71 L377.35 956.05 L376.95 956.38 L376.56 956.69 L376.17 956.98 L375.79 957.25 L375.44 957.49 L375.10 957.70 L374.76 957.88 L374.42 958.03 L374.08 958.15 L373.72 958.26 L373.36 958.36 L372.98 958.44 L372.60 958.52 L372.21 958.59 L371.80 958.67 L371.39 958.76 L370.97 958.86 L370.55 958.97 L370.87 960.53 L371.27 960.48 L371.65 960.45 L372.03 960.42 L372.43 960.40 L372.83 960.38 L373.25 960.35 L373.68 960.31 L374.12 960.26 L374.57 960.19 L375.04 960.10 L375.53 959.97 L376.02 959.82 L376.52 959.62 L376.98 959.42 L377.45 959.21 L377.94 958.98 L378.45 958.72 L378.96 958.45 L379.48 958.16 L380.00 957.85 L380.52 957.52 L381.03 957.17 L381.53 956.80 L382.01 956.41 L382.48 956.00 L382.92 955.55 L383.33 955.08 L383.70 954.60 L384.04 954.11 L384.36 953.59 L384.65 953.07 L384.92 952.53 L385.17 951.98 L385.39 951.42 L385.59 950.85 L385.76 950.28 L385.91 949.70 L386.04 949.13 L386.14 948.55 L386.22 947.97 L386.27 947.40 L386.29 946.82 L386.29 946.23 L386.27 945.64 L386.22 945.05 L386.15 944.45 L386.06 943.85 L385.93 943.25 L385.79 942.66 L385.62 942.07 L385.42 941.49 L385.20 940.91 L384.96 940.35 L384.68 939.80 L384.38 939.27 L384.06 938.77 L383.72 938.28 L383.34 937.80 L382.95 937.33 L382.53 936.87 L382.09 936.43 L381.63 936.00 L381.15 935.59 L380.66 935.21 L380.15 934.84 L379.63 934.50 L379.10 934.19 L378.56 933.90 L378.00 933.65 L377.43 933.43 L376.85 933.25 L376.25 933.09 L375.65 932.96 L375.03 932.86 L374.41 932.78 L373.79 932.72 L373.17 932.68 L372.55 932.67 L371.93 932.67 L371.33 932.69 L370.74 932.73 L370.16 932.78 L369.61 932.86 L369.05 932.95 L368.49 933.07 L367.94 933.21 L367.39 933.38 L366.84 933.56 L366.30 933.76 L365.77 933.98 L365.25 934.21 L364.74 934.45 L364.25 934.71 L363.78 934.98 L363.32 935.26 L362.89 935.55 L362.47 935.86 L362.06 936.19 L361.68 936.55 L361.34 936.92 L361.02 937.31 L360.73 937.71 L360.46 938.11 L360.20 938.51 L359.96 938.91 L359.73 939.30 L359.50 939.69 L359.27 940.06 L359.05 940.42 L358.83 940.75 L358.58 941.10 Z" fill="#000" stroke="none"/><path d="M367.04 960.65 L367.45 960.65 L367.87 960.65 L368.31 960.65 L368.74 960.65 L369.18 960.65 L369.61 960.65 L370.04 960.65 L370.46 960.65 L370.88 960.65 L371.27 960.66 L371.66 960.66 L372.02 960.67 L372.35 960.68 L372.66 960.70 L372.96 960.72 L373.24 960.74 L373.48 960.77 L373.71 960.80 L373.92 960.84 L374.12 960.87 L374.31 960.91 L374.50 960.95 L374.70 960.98 L374.90 961.02 L375.11 961.06 L375.33 961.10 L375.56 961.14 L375.81 959.36 L375.59 959.34 L375.40 959.31 L375.20 959.28 L375.01 959.25 L374.81 959.21 L374.61 959.18 L374.40 959.15 L374.17 959.12 L373.92 959.09 L373.66 959.06 L373.38 959.04 L373.07 959.02 L372.74 959.00 L372.41 959.00 L372.05 958.99 L371.67 958.99 L371.28 958.99 L370.87 958.99 L370.46 959.00 L370.03 959.00 L369.60 959.01 L369.16 959.02 L368.72 959.03 L368.29 959.04 L367.86 959.04 L367.44 959.05 L367.03 959.05 Z" fill="#000" stroke="none"/><path d="M372.85 960.83 L373.37 961.15 L373.90 961.46 L374.44 961.77 L374.98 962.06 L375.51 962.36 L376.03 962.65 L376.54 962.93 L377.04 963.23 L377.50 963.52 L377.95 963.82 L378.36 964.13 L378.74 964.45 L379.09 964.77 L379.41 965.11 L379.74 965.48 L380.07 965.89 L380.40 966.32 L380.72 966.76 L381.04 967.22 L381.34 967.70 L381.62 968.17 L381.89 968.66 L382.14 969.13 L382.37 969.61 L382.58 970.07 L382.77 970.52 L382.93 970.94 L383.06 971.34 L383.17 971.73 L383.27 972.11 L383.35 972.51 L383.42 972.90 L383.48 973.30 L383.53 973.71 L383.56 974.12 L383.58 974.53 L383.59 974.94 L383.59 975.36 L383.58 975.77 L383.55 976.19 L383.52 976.61 L383.48 977.02 L383.42 977.44 L383.36 977.88 L383.28 978.33 L383.19 978.78 L383.09 979.24 L382.97 979.70 L382.85 980.15 L382.70 980.60 L382.55 981.04 L382.39 981.47 L382.21 981.88 L382.03 982.27 L381.83 982.64 L381.63 982.98 L381.40 983.32 L381.14 983.67 L380.85 984.03 L380.53 984.39 L380.18 984.75 L379.81 985.11 L379.42 985.45 L379.01 985.79 L378.58 986.10 L378.14 986.40 L377.70 986.68 L377.25 986.93 L376.80 987.16 L376.35 987.35 L375.91 987.51 L375.45 987.64 L374.96 987.74 L374.47 987.82 L373.96 987.87 L373.44 987.91 L372.92 987.92 L372.39 987.91 L371.87 987.89 L371.35 987.85 L370.84 987.81 L370.34 987.75 L369.85 987.69 L369.38 987.62 L368.93 987.54 L368.48 987.45 L368.03 987.35 L367.59 987.23 L367.16 987.10 L366.74 986.96 L366.32 986.81 L365.92 986.65 L365.53 986.47 L365.16 986.29 L364.81 986.09 L364.47 985.89 L364.16 985.68 L363.88 985.47 L363.62 985.23 L363.39 984.98 L363.17 984.72 L362.97 984.42 L362.79 984.11 L362.60 983.78 L362.43 983.43 L362.25 983.07 L362.07 982.69 L361.88 982.30 L361.67 981.90 L361.45 981.50 L361.22 981.12 L358.93 982.71 L359.18 983.02 L359.40 983.32 L359.63 983.64 L359.86 983.97 L360.10 984.33 L360.34 984.69 L360.60 985.05 L360.88 985.42 L361.17 985.79 L361.49 986.15 L361.84 986.51 L362.23 986.84 L362.63 987.15 L363.03 987.40 L363.43 987.64 L363.84 987.87 L364.27 988.08 L364.71 988.29 L365.16 988.48 L365.62 988.66 L366.10 988.83 L366.58 988.98 L367.06 989.13 L367.56 989.26 L368.05 989.38 L368.56 989.49 L369.06 989.59 L369.57 989.67 L370.09 989.74 L370.63 989.81 L371.18 989.87 L371.74 989.91 L372.32 989.95 L372.89 989.97 L373.48 989.98 L374.07 989.97 L374.66 989.95 L375.25 989.91 L375.84 989.84 L376.42 989.76 L377.00 989.65 L377.58 989.53 L378.16 989.39 L378.74 989.23 L379.34 989.06 L379.94 988.87 L380.54 988.65 L381.14 988.42 L381.74 988.16 L382.33 987.88 L382.90 987.57 L383.47 987.23 L384.02 986.87 L384.54 986.47 L385.04 986.04 L385.52 985.57 L385.97 985.07 L386.39 984.55 L386.79 984.01 L387.16 983.45 L387.51 982.87 L387.83 982.29 L388.13 981.69 L388.40 981.08 L388.64 980.47 L388.86 979.86 L389.06 979.24 L389.22 978.63 L389.36 978.02 L389.47 977.41 L389.56 976.79 L389.62 976.16 L389.66 975.53 L389.67 974.89 L389.65 974.25 L389.60 973.60 L389.52 972.95 L389.42 972.31 L389.28 971.66 L389.11 971.02 L388.90 970.38 L388.66 969.75 L388.39 969.13 L388.08 968.52 L387.73 967.92 L387.36 967.34 L386.95 966.76 L386.52 966.21 L386.07 965.66 L385.60 965.13 L385.11 964.62 L384.60 964.12 L384.08 963.65 L383.55 963.20 L383.01 962.77 L382.46 962.37 L381.89 961.99 L381.30 961.63 L380.68 961.31 L380.06 961.04 L379.45 960.80 L378.83 960.60 L378.21 960.42 L377.60 960.26 L377.00 960.12 L376.40 959.98 L375.81 959.85 L375.23 959.72 L374.66 959.58 L374.10 959.44 L373.54 959.28 Z" fill="#000" stroke="none"/><path d="M363.75 981.31 L363.65 982.09 L363.36 982.81 L362.88 983.43 L362.26 983.91 L361.54 984.21 L360.77 984.31 L360.00 984.21 L359.28 983.91 L358.66 983.43 L358.19 982.81 L357.89 982.09 L357.79 981.31 L357.89 980.54 L358.19 979.82 L358.66 979.20 L359.28 978.72 L360.00 978.42 L360.77 978.32 L361.54 978.42 L362.26 978.72 L362.88 979.20 L363.36 979.82 L363.65 980.54 Z" fill="#000" stroke="none"/><path d="M364.45 978.12 L364.31 979.23 L363.88 980.27 L363.20 981.16 L362.31 981.84 L361.28 982.27 L360.18 982.41 L359.07 982.27 L358.04 981.84 L357.15 981.16 L356.48 980.27 L356.05 979.23 L355.90 978.12 L356.05 977.01 L356.48 975.97 L357.15 975.08 L358.04 974.40 L359.07 973.97 L360.18 973.83 L361.28 973.97 L362.31 974.40 L363.20 975.08 L363.88 975.97 L364.31 977.01 Z" fill="#000" stroke="none"/>
<path d="M412.42 937.03 L418.65 932.80 L418.65 988.19 L412.42 988.19 Z" fill="#000" stroke="none"/><path d="M402.60 937.53 L412.42 936.02 L418.65 932.80 L418.16 935.22 L412.42 938.84 L402.60 939.35 Z" fill="#000" stroke="none"/><path d="M402.99 987.08 L410.38 987.08 L412.42 983.66 L418.65 983.66 L420.69 987.08 L427.60 987.08 L427.60 989.50 L402.99 989.50 Z" fill="#000" stroke="none"/>
<path d="M670.33 943.39 L670.20 944.44 L669.79 945.42 L669.16 946.27 L668.32 946.91 L667.36 947.32 L666.32 947.46 L665.28 947.32 L664.31 946.91 L663.48 946.27 L662.84 945.42 L662.44 944.44 L662.30 943.39 L662.44 942.34 L662.84 941.36 L663.48 940.52 L664.31 939.87 L665.28 939.47 L666.32 939.33 L667.36 939.47 L668.32 939.87 L669.16 940.52 L669.79 941.36 L670.20 942.34 Z" fill="#000" stroke="none"/><path d="M669.55 941.01 L669.46 941.73 L669.18 942.40 L668.75 942.98 L668.18 943.42 L667.52 943.69 L666.81 943.79 L666.10 943.69 L665.44 943.42 L664.87 942.98 L664.43 942.40 L664.16 941.73 L664.07 941.01 L664.16 940.30 L664.43 939.63 L664.87 939.05 L665.44 938.61 L666.10 938.33 L666.81 938.24 L667.52 938.33 L668.18 938.61 L668.75 939.05 L669.18 939.63 L669.46 940.30 Z" fill="#000" stroke="none"/><path d="M666.91 940.90 L667.13 940.50 L667.34 940.06 L667.54 939.64 L667.72 939.22 L667.90 938.81 L668.07 938.41 L668.24 938.02 L668.41 937.65 L668.60 937.29 L668.79 936.95 L669.00 936.63 L669.22 936.34 L669.46 936.06 L669.74 935.80 L670.06 935.54 L670.42 935.28 L670.80 935.02 L671.20 934.78 L671.63 934.54 L672.07 934.32 L672.52 934.11 L672.98 933.92 L673.46 933.75 L673.93 933.59 L674.41 933.46 L674.89 933.36 L675.36 933.28 L675.83 933.23 L676.31 933.20 L676.81 933.18 L677.32 933.19 L677.85 933.22 L678.38 933.27 L678.91 933.34 L679.44 933.43 L679.96 933.55 L680.47 933.68 L680.96 933.83 L681.43 934.00 L681.87 934.19 L682.27 934.40 L682.63 934.62 L682.98 934.86 L683.31 935.14 L683.64 935.45 L683.95 935.78 L684.26 936.14 L684.55 936.51 L684.83 936.90 L685.09 937.31 L685.34 937.72 L685.57 938.13 L685.79 938.54 L685.99 938.95 L686.17 939.36 L686.34 939.74 L686.48 940.11 L686.60 940.49 L686.72 940.89 L686.82 941.29 L686.91 941.71 L686.99 942.14 L687.06 942.57 L687.11 943.00 L687.16 943.44 L687.19 943.87 L687.21 944.30 L687.23 944.73 L687.23 945.14 L687.22 945.55 L687.21 945.96 L687.18 946.37 L687.15 946.80 L687.11 947.22 L687.05 947.65 L686.99 948.07 L686.91 948.50 L686.82 948.92 L686.72 949.33 L686.60 949.73 L686.47 950.12 L686.33 950.50 L686.17 950.86 L686.00 951.20 L685.81 951.53 L685.59 951.88 L685.33 952.23 L685.03 952.60 L684.71 952.97 L684.36 953.33 L683.99 953.69 L683.62 954.04 L683.23 954.39 L682.84 954.71 L682.45 955.02 L682.07 955.31 L681.70 955.58 L681.35 955.81 L681.01 956.02 L680.68 956.20 L680.35 956.35 L680.01 956.48 L679.66 956.58 L679.30 956.68 L678.93 956.76 L678.55 956.84 L678.17 956.91 L677.77 956.99 L677.36 957.07 L676.94 957.17 L676.54 957.29 L676.85 958.84 L677.24 958.79 L677.62 958.75 L678.00 958.73 L678.39 958.70 L678.78 958.68 L679.19 958.65 L679.61 958.62 L680.05 958.57 L680.50 958.50 L680.96 958.41 L681.44 958.28 L681.93 958.12 L682.42 957.93 L682.87 957.74 L683.34 957.52 L683.82 957.29 L684.31 957.04 L684.82 956.77 L685.33 956.48 L685.84 956.18 L686.35 955.85 L686.86 955.50 L687.35 955.13 L687.83 954.75 L688.29 954.33 L688.72 953.89 L689.12 953.43 L689.49 952.95 L689.82 952.46 L690.14 951.95 L690.43 951.42 L690.69 950.89 L690.93 950.34 L691.15 949.79 L691.35 949.22 L691.52 948.66 L691.67 948.08 L691.79 947.51 L691.89 946.94 L691.96 946.36 L692.01 945.80 L692.04 945.22 L692.04 944.64 L692.02 944.05 L691.97 943.46 L691.90 942.86 L691.81 942.27 L691.69 941.68 L691.54 941.09 L691.38 940.50 L691.18 939.92 L690.97 939.35 L690.72 938.80 L690.45 938.25 L690.16 937.73 L689.84 937.23 L689.50 936.74 L689.13 936.27 L688.74 935.80 L688.33 935.35 L687.90 934.90 L687.45 934.48 L686.98 934.07 L686.49 933.69 L685.99 933.33 L685.48 932.99 L684.96 932.68 L684.42 932.39 L683.87 932.14 L683.32 931.93 L682.74 931.74 L682.15 931.59 L681.55 931.46 L680.95 931.36 L680.34 931.28 L679.72 931.22 L679.11 931.19 L678.50 931.17 L677.90 931.17 L677.30 931.19 L676.72 931.23 L676.16 931.28 L675.60 931.36 L675.06 931.45 L674.51 931.57 L673.96 931.71 L673.42 931.87 L672.88 932.05 L672.35 932.25 L671.83 932.47 L671.32 932.70 L670.82 932.94 L670.33 933.20 L669.86 933.47 L669.41 933.74 L668.99 934.03 L668.57 934.33 L668.17 934.66 L667.80 935.02 L667.46 935.39 L667.15 935.78 L666.86 936.17 L666.59 936.57 L666.34 936.97 L666.10 937.37 L665.87 937.76 L665.65 938.14 L665.43 938.51 L665.21 938.86 L664.99 939.20 L664.75 939.54 Z" fill="#000" stroke="none"/><path d="M673.07 958.95 L673.48 958.96 L673.90 958.96 L674.32 958.96 L674.75 958.96 L675.18 958.96 L675.61 958.95 L676.03 958.95 L676.45 958.95 L676.86 958.96 L677.25 958.96 L677.62 958.97 L677.98 958.98 L678.31 958.99 L678.61 959.00 L678.91 959.02 L679.18 959.05 L679.42 959.08 L679.65 959.11 L679.85 959.14 L680.05 959.17 L680.24 959.21 L680.43 959.25 L680.62 959.29 L680.82 959.33 L681.02 959.37 L681.24 959.40 L681.47 959.44 L681.71 957.67 L681.50 957.65 L681.31 957.62 L681.12 957.59 L680.93 957.56 L680.73 957.53 L680.53 957.50 L680.32 957.46 L680.10 957.43 L679.86 957.40 L679.60 957.38 L679.32 957.35 L679.02 957.33 L678.69 957.32 L678.36 957.31 L678.01 957.31 L677.64 957.30 L677.25 957.30 L676.85 957.31 L676.44 957.31 L676.02 957.32 L675.60 957.33 L675.17 957.33 L674.74 957.34 L674.31 957.35 L673.89 957.36 L673.47 957.36 L673.07 957.37 Z" fill="#000" stroke="none"/><path d="M678.80 959.13 L679.31 959.45 L679.84 959.76 L680.37 960.06 L680.90 960.36 L681.42 960.65 L681.94 960.93 L682.44 961.22 L682.92 961.51 L683.38 961.81 L683.82 962.11 L684.23 962.41 L684.60 962.72 L684.95 963.04 L685.26 963.38 L685.58 963.75 L685.91 964.15 L686.24 964.58 L686.55 965.02 L686.86 965.48 L687.16 965.95 L687.44 966.42 L687.70 966.90 L687.95 967.38 L688.18 967.85 L688.38 968.31 L688.57 968.75 L688.72 969.17 L688.85 969.57 L688.97 969.95 L689.06 970.34 L689.14 970.73 L689.21 971.12 L689.27 971.52 L689.31 971.92 L689.35 972.32 L689.37 972.73 L689.38 973.14 L689.38 973.56 L689.36 973.97 L689.34 974.39 L689.31 974.80 L689.27 975.21 L689.21 975.63 L689.15 976.06 L689.07 976.50 L688.99 976.96 L688.88 977.41 L688.77 977.87 L688.64 978.32 L688.51 978.77 L688.36 979.20 L688.19 979.63 L688.02 980.03 L687.84 980.42 L687.65 980.79 L687.45 981.13 L687.22 981.47 L686.97 981.81 L686.68 982.17 L686.37 982.53 L686.02 982.89 L685.66 983.24 L685.27 983.58 L684.86 983.91 L684.45 984.23 L684.01 984.53 L683.57 984.80 L683.13 985.05 L682.69 985.27 L682.25 985.46 L681.81 985.62 L681.36 985.75 L680.88 985.85 L680.39 985.93 L679.89 985.99 L679.38 986.02 L678.87 986.03 L678.35 986.02 L677.84 986.00 L677.33 985.97 L676.82 985.92 L676.33 985.86 L675.85 985.80 L675.39 985.73 L674.94 985.65 L674.50 985.57 L674.06 985.46 L673.62 985.35 L673.20 985.22 L672.78 985.08 L672.37 984.93 L671.98 984.77 L671.59 984.59 L671.23 984.41 L670.88 984.21 L670.55 984.01 L670.24 983.80 L669.97 983.59 L669.71 983.36 L669.48 983.12 L669.27 982.85 L669.07 982.56 L668.89 982.25 L668.71 981.92 L668.53 981.58 L668.36 981.22 L668.18 980.84 L667.99 980.45 L667.79 980.06 L667.57 979.65 L667.35 979.28 L665.09 980.86 L665.34 981.16 L665.56 981.46 L665.78 981.78 L666.01 982.11 L666.24 982.46 L666.48 982.82 L666.74 983.19 L667.01 983.55 L667.30 983.92 L667.62 984.28 L667.96 984.63 L668.34 984.96 L668.74 985.26 L669.13 985.52 L669.52 985.76 L669.93 985.98 L670.35 986.19 L670.78 986.40 L671.23 986.59 L671.68 986.76 L672.15 986.93 L672.62 987.09 L673.10 987.23 L673.59 987.36 L674.08 987.48 L674.57 987.59 L675.07 987.69 L675.57 987.77 L676.08 987.84 L676.61 987.91 L677.15 987.97 L677.71 988.01 L678.27 988.05 L678.84 988.07 L679.42 988.08 L680.00 988.07 L680.58 988.04 L681.16 988.00 L681.74 987.94 L682.32 987.86 L682.89 987.75 L683.45 987.63 L684.03 987.49 L684.61 987.34 L685.19 987.16 L685.78 986.97 L686.37 986.76 L686.97 986.53 L687.55 986.27 L688.13 985.99 L688.70 985.68 L689.26 985.35 L689.80 984.99 L690.32 984.59 L690.81 984.16 L691.28 983.70 L691.72 983.20 L692.14 982.69 L692.53 982.15 L692.89 981.59 L693.24 981.02 L693.55 980.44 L693.84 979.84 L694.11 979.24 L694.35 978.64 L694.57 978.03 L694.76 977.42 L694.92 976.81 L695.06 976.20 L695.17 975.59 L695.25 974.98 L695.32 974.36 L695.35 973.73 L695.36 973.09 L695.34 972.46 L695.30 971.81 L695.22 971.17 L695.12 970.53 L694.98 969.89 L694.81 969.25 L694.61 968.61 L694.37 967.99 L694.10 967.37 L693.80 966.77 L693.46 966.17 L693.09 965.59 L692.69 965.03 L692.27 964.47 L691.82 963.93 L691.36 963.40 L690.87 962.89 L690.37 962.40 L689.86 961.93 L689.34 961.48 L688.80 961.06 L688.26 960.66 L687.71 960.28 L687.12 959.92 L686.51 959.61 L685.91 959.34 L685.30 959.11 L684.69 958.91 L684.08 958.73 L683.48 958.57 L682.89 958.43 L682.30 958.29 L681.72 958.16 L681.15 958.03 L680.59 957.89 L680.03 957.75 L679.48 957.59 Z" fill="#000" stroke="none"/><path d="M669.84 979.47 L669.74 980.24 L669.45 980.96 L668.98 981.57 L668.37 982.05 L667.67 982.34 L666.91 982.45 L666.15 982.34 L665.44 982.05 L664.83 981.57 L664.36 980.96 L664.07 980.24 L663.97 979.47 L664.07 978.70 L664.36 977.99 L664.83 977.37 L665.44 976.90 L666.15 976.60 L666.91 976.50 L667.67 976.60 L668.37 976.90 L668.98 977.37 L669.45 977.99 L669.74 978.70 Z" fill="#000" stroke="none"/><path d="M670.53 976.30 L670.38 977.40 L669.96 978.43 L669.29 979.31 L668.42 979.99 L667.41 980.42 L666.32 980.56 L665.23 980.42 L664.21 979.99 L663.34 979.31 L662.67 978.43 L662.25 977.40 L662.11 976.30 L662.25 975.20 L662.67 974.17 L663.34 973.29 L664.21 972.61 L665.23 972.18 L666.32 972.04 L667.41 972.18 L668.42 972.61 L669.29 973.29 L669.96 974.17 L670.38 975.20 Z" fill="#000" stroke="none"/>
<path d="M714.13 943.39 L714.00 944.44 L713.59 945.42 L712.96 946.27 L712.12 946.91 L711.16 947.32 L710.12 947.46 L709.08 947.32 L708.11 946.91 L707.28 946.27 L706.64 945.42 L706.24 944.44 L706.10 943.39 L706.24 942.34 L706.64 941.36 L707.28 940.52 L708.11 939.87 L709.08 939.47 L710.12 939.33 L711.16 939.47 L712.12 939.87 L712.96 940.52 L713.59 941.36 L714.00 942.34 Z" fill="#000" stroke="none"/><path d="M713.35 941.01 L713.26 941.73 L712.98 942.40 L712.55 942.98 L711.98 943.42 L711.32 943.69 L710.61 943.79 L709.90 943.69 L709.24 943.42 L708.67 942.98 L708.23 942.40 L707.96 941.73 L707.87 941.01 L707.96 940.30 L708.23 939.63 L708.67 939.05 L709.24 938.61 L709.90 938.33 L710.61 938.24 L711.32 938.33 L711.98 938.61 L712.55 939.05 L712.98 939.63 L713.26 940.30 Z" fill="#000" stroke="none"/><path d="M710.71 940.90 L710.93 940.50 L711.14 940.06 L711.34 939.64 L711.52 939.22 L711.70 938.81 L711.87 938.41 L712.04 938.02 L712.21 937.65 L712.40 937.29 L712.59 936.95 L712.80 936.63 L713.02 936.34 L713.26 936.06 L713.54 935.80 L713.86 935.54 L714.22 935.28 L714.60 935.02 L715.00 934.78 L715.43 934.54 L715.87 934.32 L716.32 934.11 L716.78 933.92 L717.26 933.75 L717.73 933.59 L718.21 933.46 L718.69 933.36 L719.16 933.28 L719.63 933.23 L720.11 933.20 L720.61 933.18 L721.12 933.19 L721.65 933.22 L722.18 933.27 L722.71 933.34 L723.24 933.43 L723.76 933.55 L724.27 933.68 L724.76 933.83 L725.23 934.00 L725.67 934.19 L726.07 934.40 L726.43 934.62 L726.78 934.86 L727.11 935.14 L727.44 935.45 L727.75 935.78 L728.06 936.14 L728.35 936.51 L728.63 936.90 L728.89 937.31 L729.14 937.72 L729.37 938.13 L729.59 938.54 L729.79 938.95 L729.97 939.36 L730.14 939.74 L730.28 940.11 L730.40 940.49 L730.52 940.89 L730.62 941.29 L730.71 941.71 L730.79 942.14 L730.86 942.57 L730.91 943.00 L730.96 943.44 L730.99 943.87 L731.01 944.30 L731.03 944.73 L731.03 945.14 L731.02 945.55 L731.01 945.96 L730.98 946.37 L730.95 946.80 L730.91 947.22 L730.85 947.65 L730.79 948.07 L730.71 948.50 L730.62 948.92 L730.52 949.33 L730.40 949.73 L730.27 950.12 L730.13 950.50 L729.97 950.86 L729.80 951.20 L729.61 951.53 L729.39 951.88 L729.13 952.23 L728.83 952.60 L728.51 952.97 L728.16 953.33 L727.79 953.69 L727.42 954.04 L727.03 954.39 L726.64 954.71 L726.25 955.02 L725.87 955.31 L725.50 955.58 L725.15 955.81 L724.81 956.02 L724.48 956.20 L724.15 956.35 L723.81 956.48 L723.46 956.58 L723.10 956.68 L722.73 956.76 L722.35 956.84 L721.97 956.91 L721.57 956.99 L721.16 957.07 L720.74 957.17 L720.34 957.29 L720.65 958.84 L721.04 958.79 L721.42 958.75 L721.80 958.73 L722.19 958.70 L722.58 958.68 L722.99 958.65 L723.41 958.62 L723.85 958.57 L724.30 958.50 L724.76 958.41 L725.24 958.28 L725.73 958.12 L726.22 957.93 L726.67 957.74 L727.14 957.52 L727.62 957.29 L728.11 957.04 L728.62 956.77 L729.13 956.48 L729.64 956.18 L730.15 955.85 L730.66 955.50 L731.15 955.13 L731.63 954.75 L732.09 954.33 L732.52 953.89 L732.92 953.43 L733.29 952.95 L733.62 952.46 L733.94 951.95 L734.23 951.42 L734.49 950.89 L734.73 950.34 L734.95 949.79 L735.15 949.22 L735.32 948.66 L735.47 948.08 L735.59 947.51 L735.69 946.94 L735.76 946.36 L735.81 945.80 L735.84 945.22 L735.84 944.64 L735.82 944.05 L735.77 943.46 L735.70 942.86 L735.61 942.27 L735.49 941.68 L735.34 941.09 L735.18 940.50 L734.98 939.92 L734.77 939.35 L734.52 938.80 L734.25 938.25 L733.96 937.73 L733.64 937.23 L733.30 936.74 L732.93 936.27 L732.54 935.80 L732.13 935.35 L731.70 934.90 L731.25 934.48 L730.78 934.07 L730.29 933.69 L729.79 933.33 L729.28 932.99 L728.76 932.68 L728.22 932.39 L727.67 932.14 L727.12 931.93 L726.54 931.74 L725.95 931.59 L725.35 931.46 L724.75 931.36 L724.14 931.28 L723.52 931.22 L722.91 931.19 L722.30 931.17 L721.70 931.17 L721.10 931.19 L720.52 931.23 L719.96 931.28 L719.40 931.36 L718.86 931.45 L718.31 931.57 L717.76 931.71 L717.22 931.87 L716.68 932.05 L716.15 932.25 L715.63 932.47 L715.12 932.70 L714.62 932.94 L714.13 933.20 L713.66 933.47 L713.21 933.74 L712.79 934.03 L712.37 934.33 L711.97 934.66 L711.60 935.02 L711.26 935.39 L710.95 935.78 L710.66 936.17 L710.39 936.57 L710.14 936.97 L709.90 937.37 L709.67 937.76 L709.45 938.14 L709.23 938.51 L709.01 938.86 L708.79 939.20 L708.55 939.54 Z" fill="#000" stroke="none"/><path d="M716.87 958.95 L717.28 958.96 L717.70 958.96 L718.12 958.96 L718.55 958.96 L718.98 958.96 L719.41 958.95 L719.83 958.95 L720.25 958.95 L720.66 958.96 L721.05 958.96 L721.42 958.97 L721.78 958.98 L722.11 958.99 L722.41 959.00 L722.71 959.02 L722.98 959.05 L723.22 959.08 L723.45 959.11 L723.65 959.14 L723.85 959.17 L724.04 959.21 L724.23 959.25 L724.42 959.29 L724.62 959.33 L724.82 959.37 L725.04 959.40 L725.27 959.44 L725.51 957.67 L725.30 957.65 L725.11 957.62 L724.92 957.59 L724.73 957.56 L724.53 957.53 L724.33 957.50 L724.12 957.46 L723.90 957.43 L723.66 957.40 L723.40 957.38 L723.12 957.35 L722.82 957.33 L722.49 957.32 L722.16 957.31 L721.81 957.31 L721.44 957.30 L721.05 957.30 L720.65 957.31 L720.24 957.31 L719.82 957.32 L719.40 957.33 L718.97 957.33 L718.54 957.34 L718.11 957.35 L717.69 957.36 L717.27 957.36 L716.87 957.37 Z" fill="#000" stroke="none"/><path d="M722.60 959.13 L723.11 959.45 L723.64 959.76 L724.17 960.06 L724.70 960.36 L725.22 960.65 L725.74 960.93 L726.24 961.22 L726.72 961.51 L727.18 961.81 L727.62 962.11 L728.03 962.41 L728.40 962.72 L728.75 963.04 L729.06 963.38 L729.38 963.75 L729.71 964.15 L730.04 964.58 L730.35 965.02 L730.66 965.48 L730.96 965.95 L731.24 966.42 L731.50 966.90 L731.75 967.38 L731.98 967.85 L732.18 968.31 L732.37 968.75 L732.52 969.17 L732.65 969.57 L732.77 969.95 L732.86 970.34 L732.94 970.73 L733.01 971.12 L733.07 971.52 L733.11 971.92 L733.15 972.32 L733.17 972.73 L733.18 973.14 L733.18 973.56 L733.16 973.97 L733.14 974.39 L733.11 974.80 L733.07 975.21 L733.01 975.63 L732.95 976.06 L732.87 976.50 L732.79 976.96 L732.68 977.41 L732.57 977.87 L732.44 978.32 L732.31 978.77 L732.16 979.20 L731.99 979.63 L731.82 980.03 L731.64 980.42 L731.45 980.79 L731.25 981.13 L731.02 981.47 L730.77 981.81 L730.48 982.17 L730.17 982.53 L729.82 982.89 L729.46 983.24 L729.07 983.58 L728.66 983.91 L728.25 984.23 L727.81 984.53 L727.37 984.80 L726.93 985.05 L726.49 985.27 L726.05 985.46 L725.61 985.62 L725.16 985.75 L724.68 985.85 L724.19 985.93 L723.69 985.99 L723.18 986.02 L722.67 986.03 L722.15 986.02 L721.64 986.00 L721.13 985.97 L720.62 985.92 L720.13 985.86 L719.65 985.80 L719.19 985.73 L718.74 985.65 L718.30 985.57 L717.86 985.46 L717.42 985.35 L717.00 985.22 L716.58 985.08 L716.17 984.93 L715.78 984.77 L715.39 984.59 L715.03 984.41 L714.68 984.21 L714.35 984.01 L714.04 983.80 L713.77 983.59 L713.51 983.36 L713.28 983.12 L713.07 982.85 L712.87 982.56 L712.69 982.25 L712.51 981.92 L712.33 981.58 L712.16 981.22 L711.98 980.84 L711.79 980.45 L711.59 980.06 L711.37 979.65 L711.15 979.28 L708.89 980.86 L709.14 981.16 L709.36 981.46 L709.58 981.78 L709.81 982.11 L710.04 982.46 L710.28 982.82 L710.54 983.19 L710.81 983.55 L711.10 983.92 L711.42 984.28 L711.76 984.63 L712.14 984.96 L712.54 985.26 L712.93 985.52 L713.32 985.76 L713.73 985.98 L714.15 986.19 L714.58 986.40 L715.03 986.59 L715.48 986.76 L715.95 986.93 L716.42 987.09 L716.90 987.23 L717.39 987.36 L717.88 987.48 L718.37 987.59 L718.87 987.69 L719.37 987.77 L719.88 987.84 L720.41 987.91 L720.95 987.97 L721.51 988.01 L722.07 988.05 L722.64 988.07 L723.22 988.08 L723.80 988.07 L724.38 988.04 L724.96 988.00 L725.54 987.94 L726.12 987.86 L726.69 987.75 L727.25 987.63 L727.83 987.49 L728.41 987.34 L728.99 987.16 L729.58 986.97 L730.17 986.76 L730.77 986.53 L731.35 986.27 L731.93 985.99 L732.50 985.68 L733.06 985.35 L733.60 984.99 L734.12 984.59 L734.61 984.16 L735.08 983.70 L735.52 983.20 L735.94 982.69 L736.33 982.15 L736.69 981.59 L737.04 981.02 L737.35 980.44 L737.64 979.84 L737.91 979.24 L738.15 978.64 L738.37 978.03 L738.56 977.42 L738.72 976.81 L738.86 976.20 L738.97 975.59 L739.05 974.98 L739.12 974.36 L739.15 973.73 L739.16 973.09 L739.14 972.46 L739.10 971.81 L739.02 971.17 L738.92 970.53 L738.78 969.89 L738.61 969.25 L738.41 968.61 L738.17 967.99 L737.90 967.37 L737.60 966.77 L737.26 966.17 L736.89 965.59 L736.49 965.03 L736.07 964.47 L735.62 963.93 L735.16 963.40 L734.67 962.89 L734.17 962.40 L733.66 961.93 L733.14 961.48 L732.60 961.06 L732.06 960.66 L731.51 960.28 L730.92 959.92 L730.31 959.61 L729.71 959.34 L729.10 959.11 L728.49 958.91 L727.88 958.73 L727.28 958.57 L726.69 958.43 L726.10 958.29 L725.52 958.16 L724.95 958.03 L724.39 957.89 L723.83 957.75 L723.28 957.59 Z" fill="#000" stroke="none"/><path d="M713.64 979.47 L713.54 980.24 L713.25 980.96 L712.78 981.57 L712.17 982.05 L711.47 982.34 L710.71 982.45 L709.95 982.34 L709.24 982.05 L708.63 981.57 L708.16 980.96 L707.87 980.24 L707.77 979.47 L707.87 978.70 L708.16 977.99 L708.63 977.37 L709.24 976.90 L709.95 976.60 L710.71 976.50 L711.47 976.60 L712.17 976.90 L712.78 977.37 L713.25 977.99 L713.54 978.70 Z" fill="#000" stroke="none"/><path d="M714.33 976.30 L714.18 977.40 L713.76 978.43 L713.09 979.31 L712.22 979.99 L711.21 980.42 L710.12 980.56 L709.03 980.42 L708.01 979.99 L707.14 979.31 L706.47 978.43 L706.05 977.40 L705.91 976.30 L706.05 975.20 L706.47 974.17 L707.14 973.29 L708.01 972.61 L709.03 972.18 L710.12 972.04 L711.21 972.18 L712.22 972.61 L713.09 973.29 L713.76 974.17 L714.18 975.20 Z" fill="#000" stroke="none"/>
<path d="M847.78 486.9 L856.92 490.65 L854.42 492.53 L854.42 551.98 L848.16 554.11 L848.16 488.77 Z" fill="#000" stroke="none"/>
<path d="M833.14 517.31 L861.3 517.31 L863.8 514.06 L868.19 519.06 L833.14 520.06 Z" fill="#000" stroke="none"/>
<path d="M833.14 557.61 L867.56 548.6 L868.19 550.1 L838.77 564.12 Z" fill="#000" stroke="none"/>
<path d="M891.09 485.27 L900.1 489.4 L897.85 491.53 L897.85 522.57 L891.34 522.57 Z" fill="#000" stroke="none"/>
<path d="M866.93 499.79 L915.12 499.79 L918.25 494.78 L924.88 501.29 L866.93 502.04 Z" fill="#000" stroke="none"/>
<path d="M872.57 504.04 L878.82 506.92 L883.2 515.68 L882.58 520.69 L879.82 521.56 L875.07 511.3 Z" fill="#000" stroke="none"/>
<path d="M907.61 505.29 L919.12 508.55 L917.62 510.3 L907.61 522.57 L904.11 523.82 Z" fill="#000" stroke="none"/>
<path d="M862.55 524.07 L920.13 524.07 L922.63 519.44 L928.89 526.95 L863.18 526.57 Z" fill="#000" stroke="none"/>
<path d="M870.69 534.08 L877.57 536.33 L876.95 577.63 L871.31 577.63 Z" fill="#000" stroke="none"/>
<path d="M870.69 534.46 L916.37 535.08 L918.87 532.33 L923.88 537.58 L921.38 538.59 L870.69 538.59 Z" fill="#000" stroke="none"/>
<path d="M916.37 535.08 L921.38 537.58 L921.13 577.63 L916.37 577.01 Z" fill="#000" stroke="none"/>
<path d="M876.32 568.62 L917 568.62 L917 571.63 L876.32 571.63 Z" fill="#000" stroke="none"/>
<path d="M884.46 543.84 L890.09 545.72 L889.46 565.12 L884.83 565.12 Z" fill="#000" stroke="none"/>
<path d="M884.46 544.84 L903.85 544.84 L906.61 542.84 L909.11 546.97 L884.46 547.6 Z" fill="#000" stroke="none"/>
<path d="M902.6 544.84 L908.24 546.6 L907.61 564.49 L902.6 565.12 Z" fill="#000" stroke="none"/>
<path d="M889.46 558.61 L903.23 558.61 L903.23 561.11 L889.46 561.11 Z" fill="#000" stroke="none"/></g></svg></body></html>
